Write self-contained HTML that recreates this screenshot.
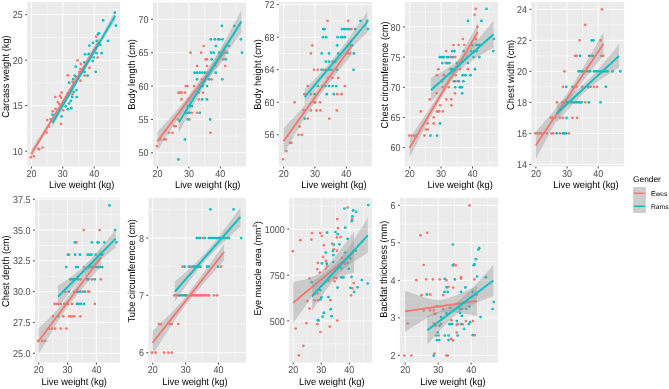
<!DOCTYPE html>
<html><head><meta charset="utf-8"><style>html,body{margin:0;padding:0;background:#fff;overflow:hidden}svg{display:block}</style></head>
<body><svg width="669" height="389" viewBox="0 0 669 389" style="will-change:transform;filter:blur(0.3px)">
<style>
text{text-rendering:geometricPrecision}
.mn{stroke:#FFFFFF;stroke-width:0.45}
.mj{stroke:#FFFFFF;stroke-width:0.9}
.tk{stroke:#333333;stroke-width:0.9}
.tl{font-family:"Liberation Sans",sans-serif;font-size:9.0px;fill:#4D4D4D}
.tt{font-family:"Liberation Sans",sans-serif;font-size:9.35px;fill:#000000}
.lt{font-family:"Liberation Sans",sans-serif;font-size:8.3px;fill:#000000}
.lx{font-family:"Liberation Sans",sans-serif;font-size:6.75px;fill:#000000}
.bd{fill:#999999;fill-opacity:0.4}
</style>
<rect width="669" height="389" fill="#FFFFFF"/>
<clipPath id="c0"><rect x="27.2" y="2" width="93" height="164.5"/></clipPath><rect x="27.2" y="2" width="93" height="164.5" fill="#EBEBEB"/><g><line x1="47.1" y1="2" x2="47.1" y2="166.5" class="mn"/><line x1="78.5" y1="2" x2="78.5" y2="166.5" class="mn"/><line x1="109.9" y1="2" x2="109.9" y2="166.5" class="mn"/><line x1="27.2" y1="128.43" x2="120.2" y2="128.43" class="mn"/><line x1="27.2" y1="82.92" x2="120.2" y2="82.92" class="mn"/><line x1="27.2" y1="37.41" x2="120.2" y2="37.41" class="mn"/><line x1="31.4" y1="2" x2="31.4" y2="166.5" class="mj"/><line x1="62.8" y1="2" x2="62.8" y2="166.5" class="mj"/><line x1="94.2" y1="2" x2="94.2" y2="166.5" class="mj"/><line x1="27.2" y1="151.19" x2="120.2" y2="151.19" class="mj"/><line x1="27.2" y1="105.68" x2="120.2" y2="105.68" class="mj"/><line x1="27.2" y1="60.17" x2="120.2" y2="60.17" class="mj"/><line x1="27.2" y1="14.66" x2="120.2" y2="14.66" class="mj"/></g><g clip-path="url(#c0)"><circle cx="96.15" cy="36.55" r="1.35" fill="#F8766D"/><circle cx="77.55" cy="60.41" r="1.35" fill="#F8766D"/><circle cx="80.79" cy="63.97" r="1.35" fill="#F8766D"/><circle cx="89.44" cy="67.97" r="1.35" fill="#F8766D"/><circle cx="80.25" cy="69.05" r="1.35" fill="#F8766D"/><circle cx="79.17" cy="72.07" r="1.35" fill="#F8766D"/><circle cx="84.57" cy="75.53" r="1.35" fill="#F8766D"/><circle cx="67.83" cy="75.31" r="1.35" fill="#F8766D"/><circle cx="75.93" cy="76.93" r="1.35" fill="#F8766D"/><circle cx="80.47" cy="80.71" r="1.35" fill="#F8766D"/><circle cx="72.69" cy="81.79" r="1.35" fill="#F8766D"/><circle cx="61.61" cy="92.69" r="1.35" fill="#F8766D"/><circle cx="55.34" cy="97.01" r="1.35" fill="#F8766D"/><circle cx="59.99" cy="95.93" r="1.35" fill="#F8766D"/><circle cx="61.07" cy="97.66" r="1.35" fill="#F8766D"/><circle cx="67.88" cy="93.34" r="1.35" fill="#F8766D"/><circle cx="72.41" cy="94.42" r="1.35" fill="#F8766D"/><circle cx="57.83" cy="101.98" r="1.35" fill="#F8766D"/><circle cx="58.91" cy="103.81" r="1.35" fill="#F8766D"/><circle cx="55.67" cy="108.89" r="1.35" fill="#F8766D"/><circle cx="52.75" cy="111.37" r="1.35" fill="#F8766D"/><circle cx="63.23" cy="110.29" r="1.35" fill="#F8766D"/><circle cx="47.02" cy="120.01" r="1.35" fill="#F8766D"/><circle cx="50.8" cy="119.47" r="1.35" fill="#F8766D"/><circle cx="61.07" cy="123.79" r="1.35" fill="#F8766D"/><circle cx="49.18" cy="126.49" r="1.35" fill="#F8766D"/><circle cx="46.54" cy="132.51" r="1.35" fill="#F8766D"/><circle cx="42.53" cy="147.55" r="1.35" fill="#F8766D"/><circle cx="38.22" cy="149.05" r="1.35" fill="#F8766D"/><circle cx="39.23" cy="149.35" r="1.35" fill="#F8766D"/><circle cx="30.81" cy="157.28" r="1.35" fill="#F8766D"/><circle cx="34.01" cy="156.37" r="1.35" fill="#F8766D"/><circle cx="97.6" cy="57.5" r="1.35" fill="#F8766D"/><circle cx="114.84" cy="12.58" r="1.35" fill="#00BFC4"/><circle cx="103.17" cy="20.35" r="1.35" fill="#00BFC4"/><circle cx="115.92" cy="25.54" r="1.35" fill="#00BFC4"/><circle cx="98.85" cy="33.31" r="1.35" fill="#00BFC4"/><circle cx="97.99" cy="34.17" r="1.35" fill="#00BFC4"/><circle cx="96.69" cy="40.87" r="1.35" fill="#00BFC4"/><circle cx="108.03" cy="40.87" r="1.35" fill="#00BFC4"/><circle cx="92.91" cy="42.81" r="1.35" fill="#00BFC4"/><circle cx="89.44" cy="45.62" r="1.35" fill="#00BFC4"/><circle cx="85.11" cy="54.26" r="1.35" fill="#00BFC4"/><circle cx="88.68" cy="53.93" r="1.35" fill="#00BFC4"/><circle cx="92.68" cy="61.06" r="1.35" fill="#00BFC4"/><circle cx="84.36" cy="62.35" r="1.35" fill="#00BFC4"/><circle cx="75.71" cy="66.67" r="1.35" fill="#00BFC4"/><circle cx="84.57" cy="72.07" r="1.35" fill="#00BFC4"/><circle cx="87.6" cy="75.53" r="1.35" fill="#00BFC4"/><circle cx="74.63" cy="75.53" r="1.35" fill="#00BFC4"/><circle cx="73.23" cy="79.09" r="1.35" fill="#00BFC4"/><circle cx="69.23" cy="82.65" r="1.35" fill="#00BFC4"/><circle cx="95.7" cy="71.86" r="1.35" fill="#00BFC4"/><circle cx="96.46" cy="53.18" r="1.35" fill="#00BFC4"/><circle cx="93.76" cy="57.5" r="1.35" fill="#00BFC4"/><circle cx="76.52" cy="90.1" r="1.35" fill="#00BFC4"/><circle cx="73.71" cy="91.94" r="1.35" fill="#00BFC4"/><circle cx="76.74" cy="97.01" r="1.35" fill="#00BFC4"/><circle cx="72.2" cy="97.01" r="1.35" fill="#00BFC4"/><circle cx="70.79" cy="100.9" r="1.35" fill="#00BFC4"/><circle cx="68.96" cy="103.49" r="1.35" fill="#00BFC4"/><circle cx="65.71" cy="106.3" r="1.35" fill="#00BFC4"/><circle cx="71.33" cy="108.13" r="1.35" fill="#00BFC4"/><circle cx="67.88" cy="109.21" r="1.35" fill="#00BFC4"/><circle cx="52.43" cy="114.61" r="1.35" fill="#00BFC4"/><circle cx="61.61" cy="116.45" r="1.35" fill="#00BFC4"/><circle cx="101.7" cy="53.2" r="1.35" fill="#00BFC4"/><circle cx="100.3" cy="44.8" r="1.35" fill="#00BFC4"/><polygon points="31.21,149.7 32.92,147.04 34.63,144.39 36.34,141.73 38.04,139.06 39.75,136.39 41.46,133.72 43.17,131.05 44.88,128.36 46.59,125.67 48.29,122.98 50,120.27 51.71,117.56 53.42,114.83 55.13,112.09 56.83,109.33 58.54,106.56 60.25,103.77 61.96,100.96 63.67,98.13 65.37,95.28 67.08,92.42 68.79,89.55 70.5,86.67 72.21,83.77 73.92,80.86 75.62,77.94 77.33,75.01 79.04,72.08 80.75,69.14 82.46,66.19 84.16,63.24 85.87,60.28 87.58,57.32 89.29,54.35 91,51.38 92.71,48.41 94.41,45.43 96.12,42.46 97.83,39.48 99.54,36.5 99.54,44.9 97.83,47.58 96.12,50.26 94.41,52.95 92.71,55.63 91,58.32 89.29,61.01 87.58,63.7 85.87,66.4 84.16,69.1 82.46,71.81 80.75,74.52 79.04,77.24 77.33,79.97 75.62,82.7 73.92,85.44 72.21,88.19 70.5,90.95 68.79,93.73 67.08,96.52 65.37,99.32 63.67,102.13 61.96,104.96 60.25,107.81 58.54,110.68 56.83,113.57 55.13,116.47 53.42,119.39 51.71,122.32 50,125.27 48.29,128.22 46.59,131.19 44.88,134.16 43.17,137.13 41.46,140.12 39.75,143.11 38.04,146.1 36.34,149.09 34.63,152.09 32.92,155.1 31.21,158.1" class="bd"/><line x1="31.21" y1="153.9" x2="99.54" y2="40.7" stroke="#F8766D" stroke-width="1.85"/><polygon points="52.44,118.8 54.01,116.29 55.58,113.77 57.15,111.26 58.72,108.74 60.29,106.21 61.86,103.69 63.43,101.15 65,98.62 66.57,96.07 68.14,93.52 69.71,90.96 71.28,88.39 72.85,85.81 74.42,83.21 75.99,80.6 77.56,77.97 79.13,75.33 80.7,72.67 82.27,69.98 83.84,67.28 85.41,64.55 86.98,61.8 88.55,59.03 90.12,56.25 91.69,53.45 93.26,50.64 94.83,47.82 96.4,44.98 97.97,42.14 99.54,39.29 101.11,36.44 102.68,33.58 104.25,30.72 105.82,27.85 107.39,24.98 108.96,22.11 110.53,19.24 112.1,16.36 113.67,13.48 115.24,10.6 115.24,20.6 113.67,23.09 112.1,25.58 110.53,28.07 108.96,30.57 107.39,33.07 105.82,35.57 104.25,38.07 102.68,40.58 101.11,43.09 99.54,45.61 97.97,48.13 96.4,50.66 94.83,53.19 93.26,55.74 91.69,58.3 90.12,60.87 88.55,63.46 86.98,66.06 85.41,68.68 83.84,71.32 82.27,73.99 80.7,76.67 79.13,79.38 77.56,82.11 75.99,84.85 74.42,87.61 72.85,90.38 71.28,93.17 69.71,95.97 68.14,98.78 66.57,101.6 65,104.42 63.43,107.26 61.86,110.09 60.29,112.94 58.72,115.78 57.15,118.63 55.58,121.49 54.01,124.34 52.44,127.2" class="bd"/><line x1="52.44" y1="123" x2="115.24" y2="15.6" stroke="#00BFC4" stroke-width="1.85"/></g><line x1="31.4" y1="166.5" x2="31.4" y2="168.5" class="tk"/><text transform="translate(31.4,177.3) scale(1,1.1)" text-anchor="middle" class="tl">20</text><line x1="62.8" y1="166.5" x2="62.8" y2="168.5" class="tk"/><text transform="translate(62.8,177.3) scale(1,1.1)" text-anchor="middle" class="tl">30</text><line x1="94.2" y1="166.5" x2="94.2" y2="168.5" class="tk"/><text transform="translate(94.2,177.3) scale(1,1.1)" text-anchor="middle" class="tl">40</text><line x1="25.2" y1="151.19" x2="27.2" y2="151.19" class="tk"/><text transform="translate(22.8,154.79) scale(1,1.1)" text-anchor="end" class="tl">10</text><line x1="25.2" y1="105.68" x2="27.2" y2="105.68" class="tk"/><text transform="translate(22.8,109.28) scale(1,1.1)" text-anchor="end" class="tl">15</text><line x1="25.2" y1="60.17" x2="27.2" y2="60.17" class="tk"/><text transform="translate(22.8,63.77) scale(1,1.1)" text-anchor="end" class="tl">20</text><line x1="25.2" y1="14.66" x2="27.2" y2="14.66" class="tk"/><text transform="translate(22.8,18.26) scale(1,1.1)" text-anchor="end" class="tl">25</text><text transform="translate(81.7,188) scale(1,1.07)" text-anchor="middle" class="tt">Live weight (kg)</text><text transform="translate(9.1,76.55) rotate(-90) scale(1,1.07)" text-anchor="middle" class="tt">Carcass weight (kg)</text><clipPath id="c1"><rect x="153" y="2" width="93.1" height="164.5"/></clipPath><rect x="153" y="2" width="93.1" height="164.5" fill="#EBEBEB"/><g><line x1="173.2" y1="2" x2="173.2" y2="166.5" class="mn"/><line x1="204.6" y1="2" x2="204.6" y2="166.5" class="mn"/><line x1="236" y1="2" x2="236" y2="166.5" class="mn"/><line x1="153" y1="136.1" x2="246.1" y2="136.1" class="mn"/><line x1="153" y1="102.73" x2="246.1" y2="102.73" class="mn"/><line x1="153" y1="69.36" x2="246.1" y2="69.36" class="mn"/><line x1="153" y1="35.98" x2="246.1" y2="35.98" class="mn"/><line x1="153" y1="2.61" x2="246.1" y2="2.61" class="mn"/><line x1="157.5" y1="2" x2="157.5" y2="166.5" class="mj"/><line x1="188.9" y1="2" x2="188.9" y2="166.5" class="mj"/><line x1="220.3" y1="2" x2="220.3" y2="166.5" class="mj"/><line x1="153" y1="152.78" x2="246.1" y2="152.78" class="mj"/><line x1="153" y1="119.41" x2="246.1" y2="119.41" class="mj"/><line x1="153" y1="86.04" x2="246.1" y2="86.04" class="mj"/><line x1="153" y1="52.67" x2="246.1" y2="52.67" class="mj"/><line x1="153" y1="19.3" x2="246.1" y2="19.3" class="mj"/></g><g clip-path="url(#c1)"><circle cx="203.7" cy="46" r="1.35" fill="#F8766D"/><circle cx="190.6" cy="52.67" r="1.35" fill="#F8766D"/><circle cx="201.2" cy="52.67" r="1.35" fill="#F8766D"/><circle cx="224.4" cy="52.67" r="1.35" fill="#F8766D"/><circle cx="205.6" cy="59.34" r="1.35" fill="#F8766D"/><circle cx="207" cy="59.34" r="1.35" fill="#F8766D"/><circle cx="223.2" cy="59.34" r="1.35" fill="#F8766D"/><circle cx="197.1" cy="66.02" r="1.35" fill="#F8766D"/><circle cx="207" cy="66.02" r="1.35" fill="#F8766D"/><circle cx="215.8" cy="66.02" r="1.35" fill="#F8766D"/><circle cx="225.2" cy="66.02" r="1.35" fill="#F8766D"/><circle cx="207.4" cy="72.69" r="1.35" fill="#F8766D"/><circle cx="201.9" cy="79.37" r="1.35" fill="#F8766D"/><circle cx="211.6" cy="79.37" r="1.35" fill="#F8766D"/><circle cx="185.7" cy="86.04" r="1.35" fill="#F8766D"/><circle cx="187.5" cy="86.04" r="1.35" fill="#F8766D"/><circle cx="194" cy="86.04" r="1.35" fill="#F8766D"/><circle cx="178.4" cy="92.71" r="1.35" fill="#F8766D"/><circle cx="180" cy="92.71" r="1.35" fill="#F8766D"/><circle cx="181.7" cy="92.71" r="1.35" fill="#F8766D"/><circle cx="184.9" cy="92.71" r="1.35" fill="#F8766D"/><circle cx="198.8" cy="92.71" r="1.35" fill="#F8766D"/><circle cx="203" cy="92.71" r="1.35" fill="#F8766D"/><circle cx="181.5" cy="99.39" r="1.35" fill="#F8766D"/><circle cx="188.6" cy="99.39" r="1.35" fill="#F8766D"/><circle cx="198.8" cy="99.39" r="1.35" fill="#F8766D"/><circle cx="191.9" cy="112.74" r="1.35" fill="#F8766D"/><circle cx="197" cy="112.74" r="1.35" fill="#F8766D"/><circle cx="177.8" cy="119.41" r="1.35" fill="#F8766D"/><circle cx="189.3" cy="119.41" r="1.35" fill="#F8766D"/><circle cx="174.1" cy="126.08" r="1.35" fill="#F8766D"/><circle cx="175.7" cy="126.08" r="1.35" fill="#F8766D"/><circle cx="169" cy="132.76" r="1.35" fill="#F8766D"/><circle cx="172.4" cy="132.76" r="1.35" fill="#F8766D"/><circle cx="210.5" cy="132.76" r="1.35" fill="#F8766D"/><circle cx="160.4" cy="139.43" r="1.35" fill="#F8766D"/><circle cx="164.2" cy="139.43" r="1.35" fill="#F8766D"/><circle cx="165.9" cy="139.43" r="1.35" fill="#F8766D"/><circle cx="156.8" cy="146.11" r="1.35" fill="#F8766D"/><circle cx="221.9" cy="25.97" r="1.35" fill="#00BFC4"/><circle cx="234.3" cy="25.97" r="1.35" fill="#00BFC4"/><circle cx="210.8" cy="39.32" r="1.35" fill="#00BFC4"/><circle cx="214.8" cy="39.32" r="1.35" fill="#00BFC4"/><circle cx="218.2" cy="39.32" r="1.35" fill="#00BFC4"/><circle cx="219.5" cy="39.32" r="1.35" fill="#00BFC4"/><circle cx="222.5" cy="39.32" r="1.35" fill="#00BFC4"/><circle cx="240.9" cy="39.32" r="1.35" fill="#00BFC4"/><circle cx="215.9" cy="46" r="1.35" fill="#00BFC4"/><circle cx="229" cy="46" r="1.35" fill="#00BFC4"/><circle cx="211" cy="52.67" r="1.35" fill="#00BFC4"/><circle cx="213.7" cy="52.67" r="1.35" fill="#00BFC4"/><circle cx="219.1" cy="52.67" r="1.35" fill="#00BFC4"/><circle cx="227.2" cy="52.67" r="1.35" fill="#00BFC4"/><circle cx="242" cy="52.67" r="1.35" fill="#00BFC4"/><circle cx="211.6" cy="59.34" r="1.35" fill="#00BFC4"/><circle cx="225.8" cy="59.34" r="1.35" fill="#00BFC4"/><circle cx="194.6" cy="72.69" r="1.35" fill="#00BFC4"/><circle cx="197.2" cy="72.69" r="1.35" fill="#00BFC4"/><circle cx="199.8" cy="72.69" r="1.35" fill="#00BFC4"/><circle cx="202.4" cy="72.69" r="1.35" fill="#00BFC4"/><circle cx="205" cy="72.69" r="1.35" fill="#00BFC4"/><circle cx="215.8" cy="72.69" r="1.35" fill="#00BFC4"/><circle cx="197.1" cy="79.37" r="1.35" fill="#00BFC4"/><circle cx="209.1" cy="79.37" r="1.35" fill="#00BFC4"/><circle cx="222.3" cy="79.37" r="1.35" fill="#00BFC4"/><circle cx="202.8" cy="86.04" r="1.35" fill="#00BFC4"/><circle cx="207" cy="86.04" r="1.35" fill="#00BFC4"/><circle cx="202.1" cy="99.39" r="1.35" fill="#00BFC4"/><circle cx="206.9" cy="99.39" r="1.35" fill="#00BFC4"/><circle cx="188.2" cy="106.06" r="1.35" fill="#00BFC4"/><circle cx="190" cy="106.06" r="1.35" fill="#00BFC4"/><circle cx="191.9" cy="106.06" r="1.35" fill="#00BFC4"/><circle cx="185.9" cy="112.74" r="1.35" fill="#00BFC4"/><circle cx="187.7" cy="112.74" r="1.35" fill="#00BFC4"/><circle cx="189.6" cy="112.74" r="1.35" fill="#00BFC4"/><circle cx="199.8" cy="112.74" r="1.35" fill="#00BFC4"/><circle cx="187.7" cy="119.41" r="1.35" fill="#00BFC4"/><circle cx="210.2" cy="119.41" r="1.35" fill="#00BFC4"/><circle cx="184.9" cy="139.43" r="1.35" fill="#00BFC4"/><circle cx="178.4" cy="159.45" r="1.35" fill="#00BFC4"/><polygon points="157.31,131.9 159.02,130.04 160.73,128.17 162.44,126.29 164.14,124.41 165.85,122.52 167.56,120.63 169.27,118.72 170.98,116.8 172.69,114.87 174.39,112.92 176.1,110.96 177.81,108.96 179.52,106.95 181.23,104.9 182.93,102.81 184.64,100.67 186.35,98.49 188.06,96.26 189.77,93.98 191.47,91.67 193.18,89.33 194.89,86.97 196.6,84.59 198.31,82.18 200.02,79.76 201.72,77.32 203.43,74.86 205.14,72.38 206.85,69.9 208.56,67.4 210.26,64.89 211.97,62.37 213.68,59.84 215.39,57.31 217.1,54.77 218.81,52.23 220.51,49.68 222.22,47.12 223.93,44.56 225.64,42 225.64,58 223.93,60.01 222.22,62.02 220.51,64.03 218.81,66.05 217.1,68.08 215.39,70.11 213.68,72.15 211.97,74.19 210.26,76.24 208.56,78.3 206.85,80.37 205.14,82.46 203.43,84.55 201.72,86.66 200.02,88.79 198.31,90.94 196.6,93.1 194.89,95.29 193.18,97.5 191.47,99.73 189.77,101.99 188.06,104.28 186.35,106.62 184.64,109.01 182.93,111.44 181.23,113.92 179.52,116.44 177.81,119 176.1,121.57 174.39,124.18 172.69,126.8 170.98,129.44 169.27,132.09 167.56,134.75 165.85,137.43 164.14,140.11 162.44,142.8 160.73,145.49 159.02,148.19 157.31,150.9" class="bd"/><line x1="157.31" y1="141.4" x2="225.64" y2="50" stroke="#F8766D" stroke-width="1.85"/><polygon points="178.85,111.5 180.41,109.46 181.98,107.41 183.54,105.36 185.1,103.3 186.66,101.23 188.22,99.15 189.79,97.06 191.35,94.96 192.91,92.84 194.47,90.7 196.04,88.55 197.6,86.36 199.16,84.15 200.72,81.89 202.28,79.6 203.85,77.25 205.41,74.85 206.97,72.39 208.53,69.87 210.09,67.29 211.66,64.67 213.22,62 214.78,59.29 216.34,56.54 217.91,53.75 219.47,50.94 221.03,48.1 222.59,45.25 224.15,42.37 225.72,39.48 227.28,36.58 228.84,33.67 230.4,30.74 231.97,27.81 233.53,24.87 235.09,21.93 236.65,18.98 238.21,16.02 239.78,13.06 241.34,10.1 241.34,32.7 239.78,34.78 238.21,36.87 236.65,38.96 235.09,41.05 233.53,43.15 231.97,45.26 230.4,47.37 228.84,49.49 227.28,51.62 225.72,53.77 224.15,55.92 222.59,58.09 221.03,60.28 219.47,62.49 217.91,64.72 216.34,66.98 214.78,69.28 213.22,71.61 211.66,73.99 210.09,76.41 208.53,78.88 206.97,81.4 205.41,83.99 203.85,86.63 202.28,89.33 200.72,92.08 199.16,94.87 197.6,97.7 196.04,100.56 194.47,103.45 192.91,106.35 191.35,109.28 189.79,112.22 188.22,115.18 186.66,118.15 185.1,121.12 183.54,124.11 181.98,127.1 180.41,130.1 178.85,133.1" class="bd"/><line x1="178.85" y1="122.3" x2="241.34" y2="21.4" stroke="#00BFC4" stroke-width="1.85"/></g><line x1="157.5" y1="166.5" x2="157.5" y2="168.5" class="tk"/><text transform="translate(157.5,177.3) scale(1,1.1)" text-anchor="middle" class="tl">20</text><line x1="188.9" y1="166.5" x2="188.9" y2="168.5" class="tk"/><text transform="translate(188.9,177.3) scale(1,1.1)" text-anchor="middle" class="tl">30</text><line x1="220.3" y1="166.5" x2="220.3" y2="168.5" class="tk"/><text transform="translate(220.3,177.3) scale(1,1.1)" text-anchor="middle" class="tl">40</text><line x1="151" y1="152.78" x2="153" y2="152.78" class="tk"/><text transform="translate(148.6,156.38) scale(1,1.1)" text-anchor="end" class="tl">50</text><line x1="151" y1="119.41" x2="153" y2="119.41" class="tk"/><text transform="translate(148.6,123.01) scale(1,1.1)" text-anchor="end" class="tl">55</text><line x1="151" y1="86.04" x2="153" y2="86.04" class="tk"/><text transform="translate(148.6,89.64) scale(1,1.1)" text-anchor="end" class="tl">60</text><line x1="151" y1="52.67" x2="153" y2="52.67" class="tk"/><text transform="translate(148.6,56.27) scale(1,1.1)" text-anchor="end" class="tl">65</text><line x1="151" y1="19.3" x2="153" y2="19.3" class="tk"/><text transform="translate(148.6,22.9) scale(1,1.1)" text-anchor="end" class="tl">70</text><text transform="translate(207.75,188) scale(1,1.07)" text-anchor="middle" class="tt">Live weight (kg)</text><text transform="translate(135.4,74.5) rotate(-90) scale(1,1.07)" text-anchor="middle" class="tt">Body length (cm)</text><clipPath id="c2"><rect x="278.8" y="2" width="93.1" height="164.5"/></clipPath><rect x="278.8" y="2" width="93.1" height="164.5" fill="#EBEBEB"/><g><line x1="299.35" y1="2" x2="299.35" y2="166.5" class="mn"/><line x1="330.65" y1="2" x2="330.65" y2="166.5" class="mn"/><line x1="361.95" y1="2" x2="361.95" y2="166.5" class="mn"/><line x1="278.8" y1="151.09" x2="371.9" y2="151.09" class="mn"/><line x1="278.8" y1="118.55" x2="371.9" y2="118.55" class="mn"/><line x1="278.8" y1="86.01" x2="371.9" y2="86.01" class="mn"/><line x1="278.8" y1="53.47" x2="371.9" y2="53.47" class="mn"/><line x1="278.8" y1="20.93" x2="371.9" y2="20.93" class="mn"/><line x1="283.7" y1="2" x2="283.7" y2="166.5" class="mj"/><line x1="315" y1="2" x2="315" y2="166.5" class="mj"/><line x1="346.3" y1="2" x2="346.3" y2="166.5" class="mj"/><line x1="278.8" y1="134.82" x2="371.9" y2="134.82" class="mj"/><line x1="278.8" y1="102.28" x2="371.9" y2="102.28" class="mj"/><line x1="278.8" y1="69.74" x2="371.9" y2="69.74" class="mj"/><line x1="278.8" y1="37.2" x2="371.9" y2="37.2" class="mj"/><line x1="278.8" y1="4.66" x2="371.9" y2="4.66" class="mj"/></g><g clip-path="url(#c2)"><circle cx="327.6" cy="20.93" r="1.35" fill="#F8766D"/><circle cx="348.2" cy="20.93" r="1.35" fill="#F8766D"/><circle cx="349.9" cy="29.07" r="1.35" fill="#F8766D"/><circle cx="351.5" cy="29.07" r="1.35" fill="#F8766D"/><circle cx="312.3" cy="45.34" r="1.35" fill="#F8766D"/><circle cx="350.8" cy="45.34" r="1.35" fill="#F8766D"/><circle cx="310.9" cy="53.47" r="1.35" fill="#F8766D"/><circle cx="347.9" cy="53.47" r="1.35" fill="#F8766D"/><circle cx="350" cy="53.47" r="1.35" fill="#F8766D"/><circle cx="332.4" cy="61.61" r="1.35" fill="#F8766D"/><circle cx="314" cy="69.74" r="1.35" fill="#F8766D"/><circle cx="317.8" cy="69.74" r="1.35" fill="#F8766D"/><circle cx="323.8" cy="69.74" r="1.35" fill="#F8766D"/><circle cx="325.1" cy="69.74" r="1.35" fill="#F8766D"/><circle cx="327.8" cy="77.88" r="1.35" fill="#F8766D"/><circle cx="332.4" cy="77.88" r="1.35" fill="#F8766D"/><circle cx="338.2" cy="77.88" r="1.35" fill="#F8766D"/><circle cx="307.7" cy="86.01" r="1.35" fill="#F8766D"/><circle cx="344.8" cy="86.01" r="1.35" fill="#F8766D"/><circle cx="304.5" cy="94.15" r="1.35" fill="#F8766D"/><circle cx="310.9" cy="94.15" r="1.35" fill="#F8766D"/><circle cx="337.2" cy="94.15" r="1.35" fill="#F8766D"/><circle cx="341.6" cy="94.15" r="1.35" fill="#F8766D"/><circle cx="294.6" cy="102.28" r="1.35" fill="#F8766D"/><circle cx="314.1" cy="102.28" r="1.35" fill="#F8766D"/><circle cx="315.3" cy="102.28" r="1.35" fill="#F8766D"/><circle cx="320.1" cy="102.28" r="1.35" fill="#F8766D"/><circle cx="303.9" cy="110.42" r="1.35" fill="#F8766D"/><circle cx="310.9" cy="110.42" r="1.35" fill="#F8766D"/><circle cx="316.5" cy="110.42" r="1.35" fill="#F8766D"/><circle cx="320.4" cy="110.42" r="1.35" fill="#F8766D"/><circle cx="336.8" cy="110.42" r="1.35" fill="#F8766D"/><circle cx="307.8" cy="118.55" r="1.35" fill="#F8766D"/><circle cx="329.3" cy="118.55" r="1.35" fill="#F8766D"/><circle cx="299.5" cy="126.69" r="1.35" fill="#F8766D"/><circle cx="298.5" cy="134.82" r="1.35" fill="#F8766D"/><circle cx="301.9" cy="134.82" r="1.35" fill="#F8766D"/><circle cx="290" cy="142.96" r="1.35" fill="#F8766D"/><circle cx="291.3" cy="142.96" r="1.35" fill="#F8766D"/><circle cx="286.4" cy="151.09" r="1.35" fill="#F8766D"/><circle cx="283" cy="159.23" r="1.35" fill="#F8766D"/><circle cx="360.5" cy="20.93" r="1.35" fill="#00BFC4"/><circle cx="367.3" cy="20.93" r="1.35" fill="#00BFC4"/><circle cx="323.2" cy="29.07" r="1.35" fill="#00BFC4"/><circle cx="324.6" cy="29.07" r="1.35" fill="#00BFC4"/><circle cx="342" cy="29.07" r="1.35" fill="#00BFC4"/><circle cx="344.1" cy="29.07" r="1.35" fill="#00BFC4"/><circle cx="346.1" cy="29.07" r="1.35" fill="#00BFC4"/><circle cx="348.5" cy="29.07" r="1.35" fill="#00BFC4"/><circle cx="355.4" cy="29.07" r="1.35" fill="#00BFC4"/><circle cx="367.9" cy="29.07" r="1.35" fill="#00BFC4"/><circle cx="323" cy="37.2" r="1.35" fill="#00BFC4"/><circle cx="326.2" cy="37.2" r="1.35" fill="#00BFC4"/><circle cx="337.6" cy="37.2" r="1.35" fill="#00BFC4"/><circle cx="341" cy="37.2" r="1.35" fill="#00BFC4"/><circle cx="342.4" cy="37.2" r="1.35" fill="#00BFC4"/><circle cx="344.8" cy="37.2" r="1.35" fill="#00BFC4"/><circle cx="337.1" cy="45.34" r="1.35" fill="#00BFC4"/><circle cx="352.2" cy="45.34" r="1.35" fill="#00BFC4"/><circle cx="321.7" cy="53.47" r="1.35" fill="#00BFC4"/><circle cx="329" cy="53.47" r="1.35" fill="#00BFC4"/><circle cx="338.2" cy="53.47" r="1.35" fill="#00BFC4"/><circle cx="353.9" cy="53.47" r="1.35" fill="#00BFC4"/><circle cx="325.8" cy="61.61" r="1.35" fill="#00BFC4"/><circle cx="329" cy="61.61" r="1.35" fill="#00BFC4"/><circle cx="335.3" cy="61.61" r="1.35" fill="#00BFC4"/><circle cx="321.5" cy="69.74" r="1.35" fill="#00BFC4"/><circle cx="329.5" cy="69.74" r="1.35" fill="#00BFC4"/><circle cx="331.6" cy="69.74" r="1.35" fill="#00BFC4"/><circle cx="337" cy="69.74" r="1.35" fill="#00BFC4"/><circle cx="353.5" cy="69.74" r="1.35" fill="#00BFC4"/><circle cx="318" cy="86.01" r="1.35" fill="#00BFC4"/><circle cx="322.5" cy="86.01" r="1.35" fill="#00BFC4"/><circle cx="325.5" cy="86.01" r="1.35" fill="#00BFC4"/><circle cx="329" cy="86.01" r="1.35" fill="#00BFC4"/><circle cx="332.6" cy="86.01" r="1.35" fill="#00BFC4"/><circle cx="336.2" cy="86.01" r="1.35" fill="#00BFC4"/><circle cx="314.7" cy="94.15" r="1.35" fill="#00BFC4"/><circle cx="326.7" cy="94.15" r="1.35" fill="#00BFC4"/><circle cx="333.8" cy="94.15" r="1.35" fill="#00BFC4"/><circle cx="304.6" cy="118.55" r="1.35" fill="#00BFC4"/><polygon points="283.51,128.3 285.21,126.51 286.92,124.72 288.62,122.92 290.32,121.12 292.03,119.3 293.73,117.48 295.43,115.64 297.13,113.79 298.84,111.92 300.54,110.03 302.24,108.12 303.94,106.17 305.65,104.19 307.35,102.16 309.05,100.07 310.76,97.92 312.46,95.7 314.16,93.4 315.86,91.03 317.57,88.63 319.27,86.2 320.97,83.75 322.67,81.28 324.38,78.8 326.08,76.29 327.78,73.77 329.49,71.23 331.19,68.68 332.89,66.12 334.59,63.54 336.3,60.95 338,58.35 339.7,55.74 341.4,53.13 343.11,50.51 344.81,47.88 346.51,45.24 348.22,42.6 349.92,39.95 351.62,37.3 351.62,54.7 349.92,56.81 348.22,58.93 346.51,61.06 344.81,63.18 343.11,65.32 341.4,67.46 339.7,69.61 338,71.77 336.3,73.93 334.59,76.11 332.89,78.3 331.19,80.5 329.49,82.71 327.78,84.94 326.08,87.18 324.38,89.44 322.67,91.72 320.97,94.02 319.27,96.34 317.57,98.67 315.86,101.04 314.16,103.43 312.46,105.89 310.76,108.44 309.05,111.05 307.35,113.73 305.65,116.47 303.94,119.25 302.24,122.07 300.54,124.92 298.84,127.79 297.13,130.69 295.43,133.6 293.73,136.53 292.03,139.47 290.32,142.42 288.62,145.38 286.92,148.35 285.21,151.32 283.51,154.3" class="bd"/><line x1="283.51" y1="141.3" x2="351.62" y2="46" stroke="#F8766D" stroke-width="1.85"/><polygon points="304.67,89.2 306.24,87.63 307.8,86.05 309.37,84.47 310.93,82.88 312.5,81.29 314.06,79.68 315.63,78.07 317.19,76.44 318.76,74.8 320.32,73.15 321.89,71.48 323.45,69.79 325.02,68.09 326.58,66.36 328.15,64.6 329.71,62.81 331.28,61 332.84,59.15 334.41,57.28 335.97,55.35 337.54,53.38 339.1,51.36 340.67,49.31 342.23,47.21 343.8,45.09 345.36,42.94 346.93,40.76 348.49,38.57 350.06,36.35 351.62,34.13 353.19,31.89 354.75,29.64 356.32,27.38 357.88,25.11 359.45,22.84 361.01,20.56 362.58,18.28 364.14,15.99 365.71,13.7 367.27,11.4 367.27,32.6 365.71,34.06 364.14,35.53 362.58,37 361.01,38.48 359.45,39.96 357.88,41.45 356.32,42.94 354.75,44.44 353.19,45.95 351.62,47.47 350.06,49.01 348.49,50.55 346.93,52.12 345.36,53.7 343.8,55.31 342.23,56.95 340.67,58.61 339.1,60.32 337.54,62.06 335.97,63.85 334.41,65.68 332.84,67.57 331.28,69.48 329.71,71.43 328.15,73.4 326.58,75.4 325.02,77.43 323.45,79.49 321.89,81.56 320.32,83.65 318.76,85.76 317.19,87.88 315.63,90.01 314.06,92.16 312.5,94.31 310.93,96.48 309.37,98.65 307.8,100.83 306.24,103.01 304.67,105.2" class="bd"/><line x1="304.67" y1="97.2" x2="367.27" y2="22" stroke="#00BFC4" stroke-width="1.85"/></g><line x1="283.7" y1="166.5" x2="283.7" y2="168.5" class="tk"/><text transform="translate(283.7,177.3) scale(1,1.1)" text-anchor="middle" class="tl">20</text><line x1="315" y1="166.5" x2="315" y2="168.5" class="tk"/><text transform="translate(315,177.3) scale(1,1.1)" text-anchor="middle" class="tl">30</text><line x1="346.3" y1="166.5" x2="346.3" y2="168.5" class="tk"/><text transform="translate(346.3,177.3) scale(1,1.1)" text-anchor="middle" class="tl">40</text><line x1="276.8" y1="134.82" x2="278.8" y2="134.82" class="tk"/><text transform="translate(274.4,138.42) scale(1,1.1)" text-anchor="end" class="tl">56</text><line x1="276.8" y1="102.28" x2="278.8" y2="102.28" class="tk"/><text transform="translate(274.4,105.88) scale(1,1.1)" text-anchor="end" class="tl">60</text><line x1="276.8" y1="69.74" x2="278.8" y2="69.74" class="tk"/><text transform="translate(274.4,73.34) scale(1,1.1)" text-anchor="end" class="tl">64</text><line x1="276.8" y1="37.2" x2="278.8" y2="37.2" class="tk"/><text transform="translate(274.4,40.8) scale(1,1.1)" text-anchor="end" class="tl">68</text><line x1="276.8" y1="4.66" x2="278.8" y2="4.66" class="tk"/><text transform="translate(274.4,8.26) scale(1,1.1)" text-anchor="end" class="tl">72</text><text transform="translate(333.9,188) scale(1,1.07)" text-anchor="middle" class="tt">Live weight (kg)</text><text transform="translate(260.8,74.55) rotate(-90) scale(1,1.07)" text-anchor="middle" class="tt">Body height (cm)</text><clipPath id="c3"><rect x="404.9" y="2" width="93.1" height="164.5"/></clipPath><rect x="404.9" y="2" width="93.1" height="164.5" fill="#EBEBEB"/><g><line x1="425.4" y1="2" x2="425.4" y2="166.5" class="mn"/><line x1="456.8" y1="2" x2="456.8" y2="166.5" class="mn"/><line x1="488.2" y1="2" x2="488.2" y2="166.5" class="mn"/><line x1="404.9" y1="162.68" x2="498" y2="162.68" class="mn"/><line x1="404.9" y1="132.51" x2="498" y2="132.51" class="mn"/><line x1="404.9" y1="102.34" x2="498" y2="102.34" class="mn"/><line x1="404.9" y1="72.18" x2="498" y2="72.18" class="mn"/><line x1="404.9" y1="42.01" x2="498" y2="42.01" class="mn"/><line x1="404.9" y1="11.84" x2="498" y2="11.84" class="mn"/><line x1="409.7" y1="2" x2="409.7" y2="166.5" class="mj"/><line x1="441.1" y1="2" x2="441.1" y2="166.5" class="mj"/><line x1="472.5" y1="2" x2="472.5" y2="166.5" class="mj"/><line x1="404.9" y1="147.6" x2="498" y2="147.6" class="mj"/><line x1="404.9" y1="117.43" x2="498" y2="117.43" class="mj"/><line x1="404.9" y1="87.26" x2="498" y2="87.26" class="mj"/><line x1="404.9" y1="57.09" x2="498" y2="57.09" class="mj"/><line x1="404.9" y1="26.92" x2="498" y2="26.92" class="mj"/></g><g clip-path="url(#c3)"><circle cx="475.7" cy="8.82" r="1.35" fill="#F8766D"/><circle cx="474.5" cy="14.85" r="1.35" fill="#F8766D"/><circle cx="477.5" cy="26.92" r="1.35" fill="#F8766D"/><circle cx="462.9" cy="38.99" r="1.35" fill="#F8766D"/><circle cx="475.7" cy="38.99" r="1.35" fill="#F8766D"/><circle cx="453.4" cy="45.02" r="1.35" fill="#F8766D"/><circle cx="458.7" cy="45.02" r="1.35" fill="#F8766D"/><circle cx="464.3" cy="45.02" r="1.35" fill="#F8766D"/><circle cx="446.2" cy="51.06" r="1.35" fill="#F8766D"/><circle cx="450.8" cy="57.09" r="1.35" fill="#F8766D"/><circle cx="455.3" cy="57.09" r="1.35" fill="#F8766D"/><circle cx="438.4" cy="69.16" r="1.35" fill="#F8766D"/><circle cx="460" cy="69.16" r="1.35" fill="#F8766D"/><circle cx="467.7" cy="69.16" r="1.35" fill="#F8766D"/><circle cx="436.9" cy="75.19" r="1.35" fill="#F8766D"/><circle cx="443.9" cy="75.19" r="1.35" fill="#F8766D"/><circle cx="455.7" cy="75.19" r="1.35" fill="#F8766D"/><circle cx="442.2" cy="81.23" r="1.35" fill="#F8766D"/><circle cx="453.8" cy="81.23" r="1.35" fill="#F8766D"/><circle cx="457.5" cy="81.23" r="1.35" fill="#F8766D"/><circle cx="442.7" cy="87.26" r="1.35" fill="#F8766D"/><circle cx="448.7" cy="87.26" r="1.35" fill="#F8766D"/><circle cx="436.7" cy="93.29" r="1.35" fill="#F8766D"/><circle cx="455" cy="93.29" r="1.35" fill="#F8766D"/><circle cx="429.7" cy="99.33" r="1.35" fill="#F8766D"/><circle cx="446.4" cy="99.33" r="1.35" fill="#F8766D"/><circle cx="451.3" cy="99.33" r="1.35" fill="#F8766D"/><circle cx="440.2" cy="105.36" r="1.35" fill="#F8766D"/><circle cx="451.3" cy="105.36" r="1.35" fill="#F8766D"/><circle cx="420.9" cy="111.4" r="1.35" fill="#F8766D"/><circle cx="437" cy="111.4" r="1.35" fill="#F8766D"/><circle cx="438.2" cy="111.4" r="1.35" fill="#F8766D"/><circle cx="439.3" cy="111.4" r="1.35" fill="#F8766D"/><circle cx="442.8" cy="111.4" r="1.35" fill="#F8766D"/><circle cx="433.7" cy="117.43" r="1.35" fill="#F8766D"/><circle cx="427.7" cy="123.46" r="1.35" fill="#F8766D"/><circle cx="433.7" cy="123.46" r="1.35" fill="#F8766D"/><circle cx="425.9" cy="129.5" r="1.35" fill="#F8766D"/><circle cx="427.7" cy="129.5" r="1.35" fill="#F8766D"/><circle cx="409.2" cy="135.53" r="1.35" fill="#F8766D"/><circle cx="411.7" cy="135.53" r="1.35" fill="#F8766D"/><circle cx="414.2" cy="135.53" r="1.35" fill="#F8766D"/><circle cx="416.7" cy="135.53" r="1.35" fill="#F8766D"/><circle cx="424.5" cy="135.53" r="1.35" fill="#F8766D"/><circle cx="486.5" cy="8.82" r="1.35" fill="#00BFC4"/><circle cx="468" cy="20.89" r="1.35" fill="#00BFC4"/><circle cx="481.4" cy="20.89" r="1.35" fill="#00BFC4"/><circle cx="493.9" cy="38.99" r="1.35" fill="#00BFC4"/><circle cx="472.1" cy="45.02" r="1.35" fill="#00BFC4"/><circle cx="476.3" cy="45.02" r="1.35" fill="#00BFC4"/><circle cx="477.7" cy="45.02" r="1.35" fill="#00BFC4"/><circle cx="479.6" cy="45.02" r="1.35" fill="#00BFC4"/><circle cx="452.2" cy="51.06" r="1.35" fill="#00BFC4"/><circle cx="454.5" cy="51.06" r="1.35" fill="#00BFC4"/><circle cx="463.6" cy="51.06" r="1.35" fill="#00BFC4"/><circle cx="471.2" cy="51.06" r="1.35" fill="#00BFC4"/><circle cx="474.5" cy="51.06" r="1.35" fill="#00BFC4"/><circle cx="476.8" cy="51.06" r="1.35" fill="#00BFC4"/><circle cx="493.3" cy="51.06" r="1.35" fill="#00BFC4"/><circle cx="439.7" cy="57.09" r="1.35" fill="#00BFC4"/><circle cx="441.1" cy="57.09" r="1.35" fill="#00BFC4"/><circle cx="442.5" cy="57.09" r="1.35" fill="#00BFC4"/><circle cx="443.9" cy="57.09" r="1.35" fill="#00BFC4"/><circle cx="447.1" cy="57.09" r="1.35" fill="#00BFC4"/><circle cx="448.5" cy="57.09" r="1.35" fill="#00BFC4"/><circle cx="452.7" cy="57.09" r="1.35" fill="#00BFC4"/><circle cx="473.5" cy="57.09" r="1.35" fill="#00BFC4"/><circle cx="479.4" cy="57.09" r="1.35" fill="#00BFC4"/><circle cx="442.3" cy="63.12" r="1.35" fill="#00BFC4"/><circle cx="446" cy="63.12" r="1.35" fill="#00BFC4"/><circle cx="447.6" cy="63.12" r="1.35" fill="#00BFC4"/><circle cx="449.4" cy="63.12" r="1.35" fill="#00BFC4"/><circle cx="456.9" cy="63.12" r="1.35" fill="#00BFC4"/><circle cx="468" cy="63.12" r="1.35" fill="#00BFC4"/><circle cx="450.6" cy="69.16" r="1.35" fill="#00BFC4"/><circle cx="452" cy="69.16" r="1.35" fill="#00BFC4"/><circle cx="474.9" cy="69.16" r="1.35" fill="#00BFC4"/><circle cx="462.6" cy="75.19" r="1.35" fill="#00BFC4"/><circle cx="465.4" cy="75.19" r="1.35" fill="#00BFC4"/><circle cx="470.5" cy="75.19" r="1.35" fill="#00BFC4"/><circle cx="454.8" cy="81.23" r="1.35" fill="#00BFC4"/><circle cx="458.9" cy="81.23" r="1.35" fill="#00BFC4"/><circle cx="463.4" cy="81.23" r="1.35" fill="#00BFC4"/><circle cx="455.2" cy="87.26" r="1.35" fill="#00BFC4"/><circle cx="459.7" cy="87.26" r="1.35" fill="#00BFC4"/><circle cx="460.8" cy="87.26" r="1.35" fill="#00BFC4"/><circle cx="461.9" cy="87.26" r="1.35" fill="#00BFC4"/><circle cx="462.2" cy="93.29" r="1.35" fill="#00BFC4"/><circle cx="440" cy="123.46" r="1.35" fill="#00BFC4"/><circle cx="430.5" cy="135.53" r="1.35" fill="#00BFC4"/><circle cx="437" cy="135.53" r="1.35" fill="#00BFC4"/><polygon points="409.51,138.3 411.22,135.82 412.93,133.34 414.64,130.86 416.34,128.36 418.05,125.86 419.76,123.35 421.47,120.83 423.18,118.3 424.89,115.75 426.59,113.19 428.3,110.61 430.01,108 431.72,105.36 433.43,102.69 435.13,99.99 436.84,97.24 438.55,94.44 440.26,91.59 441.97,88.7 443.67,85.76 445.38,82.8 447.09,79.8 448.8,76.78 450.51,73.73 452.22,70.66 453.92,67.56 455.63,64.45 457.34,61.32 459.05,58.18 460.76,55.02 462.46,51.85 464.17,48.67 465.88,45.48 467.59,42.29 469.3,39.09 471.01,35.88 472.71,32.67 474.42,29.45 476.13,26.23 477.84,23 477.84,41 476.13,43.57 474.42,46.15 472.71,48.73 471.01,51.32 469.3,53.91 467.59,56.51 465.88,59.12 464.17,61.73 462.46,64.35 460.76,66.98 459.05,69.62 457.34,72.28 455.63,74.95 453.92,77.64 452.22,80.34 450.51,83.07 448.8,85.82 447.09,88.6 445.38,91.4 443.67,94.24 441.97,97.1 440.26,100.01 438.55,102.96 436.84,105.96 435.13,109.01 433.43,112.11 431.72,115.24 430.01,118.4 428.3,121.59 426.59,124.81 424.89,128.05 423.18,131.3 421.47,134.57 419.76,137.85 418.05,141.14 416.34,144.44 414.64,147.74 412.93,151.06 411.22,154.38 409.51,157.7" class="bd"/><line x1="409.51" y1="148" x2="477.84" y2="32" stroke="#F8766D" stroke-width="1.85"/><polygon points="431.05,78 432.61,77.11 434.18,76.22 435.74,75.32 437.3,74.41 438.86,73.5 440.42,72.57 441.99,71.62 443.55,70.66 445.11,69.68 446.67,68.69 448.24,67.66 449.8,66.61 451.36,65.52 452.92,64.39 454.48,63.22 456.05,62 457.61,60.72 459.17,59.38 460.73,57.99 462.3,56.53 463.86,55.02 465.42,53.45 466.98,51.84 468.54,50.18 470.11,48.48 471.67,46.75 473.23,44.98 474.79,43.2 476.35,41.39 477.92,39.56 479.48,37.72 481.04,35.86 482.6,33.99 484.17,32.12 485.73,30.23 487.29,28.34 488.85,26.43 490.41,24.53 491.98,22.62 493.54,20.7 493.54,47.7 491.98,48.57 490.41,49.45 488.85,50.34 487.29,51.22 485.73,52.12 484.17,53.02 482.6,53.94 481.04,54.86 479.48,55.79 477.92,56.74 476.35,57.7 474.79,58.68 473.23,59.69 471.67,60.71 470.11,61.77 468.54,62.86 466.98,63.99 465.42,65.17 463.86,66.39 462.3,67.67 460.73,69 459.17,70.4 457.61,71.85 456.05,73.36 454.48,74.93 452.92,76.55 451.36,78.21 449.8,79.91 448.24,81.65 446.67,83.41 445.11,85.21 443.55,87.02 441.99,88.85 440.42,90.69 438.86,92.55 437.3,94.43 435.74,96.31 434.18,98.2 432.61,100.1 431.05,102" class="bd"/><line x1="431.05" y1="90" x2="493.54" y2="34.2" stroke="#00BFC4" stroke-width="1.85"/></g><line x1="409.7" y1="166.5" x2="409.7" y2="168.5" class="tk"/><text transform="translate(409.7,177.3) scale(1,1.1)" text-anchor="middle" class="tl">20</text><line x1="441.1" y1="166.5" x2="441.1" y2="168.5" class="tk"/><text transform="translate(441.1,177.3) scale(1,1.1)" text-anchor="middle" class="tl">30</text><line x1="472.5" y1="166.5" x2="472.5" y2="168.5" class="tk"/><text transform="translate(472.5,177.3) scale(1,1.1)" text-anchor="middle" class="tl">40</text><line x1="402.9" y1="147.6" x2="404.9" y2="147.6" class="tk"/><text transform="translate(400.5,151.2) scale(1,1.1)" text-anchor="end" class="tl">60</text><line x1="402.9" y1="117.43" x2="404.9" y2="117.43" class="tk"/><text transform="translate(400.5,121.03) scale(1,1.1)" text-anchor="end" class="tl">65</text><line x1="402.9" y1="87.26" x2="404.9" y2="87.26" class="tk"/><text transform="translate(400.5,90.86) scale(1,1.1)" text-anchor="end" class="tl">70</text><line x1="402.9" y1="57.09" x2="404.9" y2="57.09" class="tk"/><text transform="translate(400.5,60.69) scale(1,1.1)" text-anchor="end" class="tl">75</text><line x1="402.9" y1="26.92" x2="404.9" y2="26.92" class="tk"/><text transform="translate(400.5,30.52) scale(1,1.1)" text-anchor="end" class="tl">80</text><text transform="translate(460.1,188) scale(1,1.07)" text-anchor="middle" class="tt">Live weight (kg)</text><text transform="translate(387.5,74.9) rotate(-90) scale(1,1.07)" text-anchor="middle" class="tt">Chest circumference (cm)</text><clipPath id="c4"><rect x="531.3" y="2" width="92.9" height="164.5"/></clipPath><rect x="531.3" y="2" width="92.9" height="164.5" fill="#EBEBEB"/><g><line x1="551.48" y1="2" x2="551.48" y2="166.5" class="mn"/><line x1="582.62" y1="2" x2="582.62" y2="166.5" class="mn"/><line x1="613.78" y1="2" x2="613.78" y2="166.5" class="mn"/><line x1="531.3" y1="148.86" x2="624.2" y2="148.86" class="mn"/><line x1="531.3" y1="117.85" x2="624.2" y2="117.85" class="mn"/><line x1="531.3" y1="86.85" x2="624.2" y2="86.85" class="mn"/><line x1="531.3" y1="55.85" x2="624.2" y2="55.85" class="mn"/><line x1="531.3" y1="24.84" x2="624.2" y2="24.84" class="mn"/><line x1="535.9" y1="2" x2="535.9" y2="166.5" class="mj"/><line x1="567.05" y1="2" x2="567.05" y2="166.5" class="mj"/><line x1="598.2" y1="2" x2="598.2" y2="166.5" class="mj"/><line x1="531.3" y1="164.36" x2="624.2" y2="164.36" class="mj"/><line x1="531.3" y1="133.35" x2="624.2" y2="133.35" class="mj"/><line x1="531.3" y1="102.35" x2="624.2" y2="102.35" class="mj"/><line x1="531.3" y1="71.35" x2="624.2" y2="71.35" class="mj"/><line x1="531.3" y1="40.35" x2="624.2" y2="40.35" class="mj"/><line x1="531.3" y1="9.34" x2="624.2" y2="9.34" class="mj"/></g><g clip-path="url(#c4)"><circle cx="602" cy="9.34" r="1.35" fill="#F8766D"/><circle cx="585.1" cy="24.84" r="1.35" fill="#F8766D"/><circle cx="579.7" cy="40.35" r="1.35" fill="#F8766D"/><circle cx="600.5" cy="40.35" r="1.35" fill="#F8766D"/><circle cx="575" cy="55.85" r="1.35" fill="#F8766D"/><circle cx="576.6" cy="55.85" r="1.35" fill="#F8766D"/><circle cx="590.8" cy="55.85" r="1.35" fill="#F8766D"/><circle cx="601.3" cy="55.85" r="1.35" fill="#F8766D"/><circle cx="603.1" cy="55.85" r="1.35" fill="#F8766D"/><circle cx="564.4" cy="71.35" r="1.35" fill="#F8766D"/><circle cx="563" cy="86.85" r="1.35" fill="#F8766D"/><circle cx="576.3" cy="86.85" r="1.35" fill="#F8766D"/><circle cx="582.2" cy="86.85" r="1.35" fill="#F8766D"/><circle cx="590.5" cy="86.85" r="1.35" fill="#F8766D"/><circle cx="594" cy="86.85" r="1.35" fill="#F8766D"/><circle cx="597" cy="86.85" r="1.35" fill="#F8766D"/><circle cx="557" cy="102.35" r="1.35" fill="#F8766D"/><circle cx="562.3" cy="102.35" r="1.35" fill="#F8766D"/><circle cx="564.1" cy="102.35" r="1.35" fill="#F8766D"/><circle cx="585.2" cy="102.35" r="1.35" fill="#F8766D"/><circle cx="550.9" cy="117.85" r="1.35" fill="#F8766D"/><circle cx="552.9" cy="117.85" r="1.35" fill="#F8766D"/><circle cx="555.2" cy="117.85" r="1.35" fill="#F8766D"/><circle cx="560" cy="117.85" r="1.35" fill="#F8766D"/><circle cx="562.9" cy="117.85" r="1.35" fill="#F8766D"/><circle cx="572.4" cy="117.85" r="1.35" fill="#F8766D"/><circle cx="577.1" cy="117.85" r="1.35" fill="#F8766D"/><circle cx="535.3" cy="133.35" r="1.35" fill="#F8766D"/><circle cx="537.4" cy="133.35" r="1.35" fill="#F8766D"/><circle cx="539.5" cy="133.35" r="1.35" fill="#F8766D"/><circle cx="541.6" cy="133.35" r="1.35" fill="#F8766D"/><circle cx="543.7" cy="133.35" r="1.35" fill="#F8766D"/><circle cx="547" cy="133.35" r="1.35" fill="#F8766D"/><circle cx="551.5" cy="133.35" r="1.35" fill="#F8766D"/><circle cx="553.2" cy="133.35" r="1.35" fill="#F8766D"/><circle cx="560" cy="133.35" r="1.35" fill="#F8766D"/><circle cx="568.8" cy="133.35" r="1.35" fill="#F8766D"/><circle cx="591.7" cy="40.35" r="1.35" fill="#00BFC4"/><circle cx="593.5" cy="40.35" r="1.35" fill="#00BFC4"/><circle cx="580" cy="55.85" r="1.35" fill="#00BFC4"/><circle cx="589.2" cy="55.85" r="1.35" fill="#00BFC4"/><circle cx="592.8" cy="55.85" r="1.35" fill="#00BFC4"/><circle cx="578.5" cy="71.35" r="1.35" fill="#00BFC4"/><circle cx="579.9" cy="71.35" r="1.35" fill="#00BFC4"/><circle cx="581.9" cy="71.35" r="1.35" fill="#00BFC4"/><circle cx="583.8" cy="71.35" r="1.35" fill="#00BFC4"/><circle cx="585.8" cy="71.35" r="1.35" fill="#00BFC4"/><circle cx="588.2" cy="71.35" r="1.35" fill="#00BFC4"/><circle cx="590.1" cy="71.35" r="1.35" fill="#00BFC4"/><circle cx="594" cy="71.35" r="1.35" fill="#00BFC4"/><circle cx="596" cy="71.35" r="1.35" fill="#00BFC4"/><circle cx="597.9" cy="71.35" r="1.35" fill="#00BFC4"/><circle cx="599.8" cy="71.35" r="1.35" fill="#00BFC4"/><circle cx="601.8" cy="71.35" r="1.35" fill="#00BFC4"/><circle cx="603.7" cy="71.35" r="1.35" fill="#00BFC4"/><circle cx="605.7" cy="71.35" r="1.35" fill="#00BFC4"/><circle cx="607.6" cy="71.35" r="1.35" fill="#00BFC4"/><circle cx="612.5" cy="71.35" r="1.35" fill="#00BFC4"/><circle cx="620.3" cy="71.35" r="1.35" fill="#00BFC4"/><circle cx="566.2" cy="86.85" r="1.35" fill="#00BFC4"/><circle cx="572.5" cy="86.85" r="1.35" fill="#00BFC4"/><circle cx="588.1" cy="86.85" r="1.35" fill="#00BFC4"/><circle cx="605.8" cy="86.85" r="1.35" fill="#00BFC4"/><circle cx="566.5" cy="102.35" r="1.35" fill="#00BFC4"/><circle cx="568.2" cy="102.35" r="1.35" fill="#00BFC4"/><circle cx="571.2" cy="102.35" r="1.35" fill="#00BFC4"/><circle cx="573" cy="102.35" r="1.35" fill="#00BFC4"/><circle cx="574.8" cy="102.35" r="1.35" fill="#00BFC4"/><circle cx="576.5" cy="102.35" r="1.35" fill="#00BFC4"/><circle cx="578.3" cy="102.35" r="1.35" fill="#00BFC4"/><circle cx="580.1" cy="102.35" r="1.35" fill="#00BFC4"/><circle cx="581.6" cy="102.35" r="1.35" fill="#00BFC4"/><circle cx="588.9" cy="102.35" r="1.35" fill="#00BFC4"/><circle cx="600.5" cy="102.35" r="1.35" fill="#00BFC4"/><circle cx="566.5" cy="117.85" r="1.35" fill="#00BFC4"/><circle cx="556.7" cy="133.35" r="1.35" fill="#00BFC4"/><circle cx="562.9" cy="133.35" r="1.35" fill="#00BFC4"/><circle cx="564.5" cy="133.35" r="1.35" fill="#00BFC4"/><circle cx="566.1" cy="133.35" r="1.35" fill="#00BFC4"/><polygon points="535.71,131.6 537.41,129.7 539.1,127.8 540.8,125.89 542.49,123.98 544.19,122.05 545.88,120.12 547.58,118.17 549.27,116.21 550.96,114.24 552.66,112.24 554.35,110.21 556.05,108.15 557.74,106.06 559.44,103.91 561.13,101.7 562.83,99.43 564.52,97.07 566.22,94.62 567.91,92.09 569.6,89.5 571.3,86.86 572.99,84.19 574.69,81.47 576.38,78.72 578.08,75.94 579.77,73.13 581.47,70.29 583.16,67.43 584.86,64.55 586.55,61.66 588.24,58.75 589.94,55.84 591.63,52.91 593.33,49.97 595.02,47.02 596.72,44.07 598.41,41.11 600.11,38.14 601.8,35.17 603.5,32.2 603.5,55.2 601.8,57.31 600.11,59.43 598.41,61.55 596.72,63.67 595.02,65.8 593.33,67.94 591.63,70.09 589.94,72.24 588.24,74.41 586.55,76.59 584.86,78.78 583.16,80.99 581.47,83.22 579.77,85.46 578.08,87.74 576.38,90.04 574.69,92.37 572.99,94.74 571.3,97.15 569.6,99.6 567.91,102.1 566.22,104.65 564.52,107.28 562.83,110.01 561.13,112.82 559.44,115.7 557.74,118.64 556.05,121.63 554.35,124.65 552.66,127.71 550.96,130.8 549.27,133.91 547.58,137.03 545.88,140.17 544.19,143.32 542.49,146.48 540.8,149.65 539.1,152.83 537.41,156.01 535.71,159.2" class="bd"/><line x1="535.71" y1="145.4" x2="603.5" y2="43.7" stroke="#F8766D" stroke-width="1.85"/><polygon points="556.77,104.5 558.33,103.42 559.89,102.34 561.44,101.24 563,100.15 564.56,99.04 566.12,97.92 567.67,96.8 569.23,95.66 570.79,94.5 572.35,93.33 573.9,92.15 575.46,90.94 577.02,89.7 578.58,88.44 580.13,87.15 581.69,85.83 583.25,84.47 584.81,83.07 586.36,81.64 587.92,80.15 589.48,78.6 591.04,77.01 592.59,75.37 594.15,73.69 595.71,71.98 597.27,70.24 598.82,68.47 600.38,66.68 601.94,64.87 603.5,63.04 605.05,61.2 606.61,59.35 608.17,57.49 609.73,55.63 611.28,53.75 612.84,51.87 614.4,49.98 615.96,48.09 617.51,46.2 619.07,44.3 619.07,67.5 617.51,68.48 615.96,69.47 614.4,70.46 612.84,71.45 611.28,72.45 609.73,73.45 608.17,74.47 606.61,75.49 605.05,76.52 603.5,77.56 601.94,78.61 600.38,79.68 598.82,80.77 597.27,81.88 595.71,83.02 594.15,84.19 592.59,85.39 591.04,86.63 589.48,87.92 587.92,89.25 586.36,90.64 584.81,92.09 583.25,93.57 581.69,95.09 580.13,96.65 578.58,98.24 577.02,99.86 575.46,101.5 573.9,103.17 572.35,104.87 570.79,106.58 569.23,108.3 567.67,110.04 566.12,111.8 564.56,113.56 563,115.33 561.44,117.12 559.89,118.9 558.33,120.7 556.77,122.5" class="bd"/><line x1="556.77" y1="113.5" x2="619.07" y2="55.9" stroke="#00BFC4" stroke-width="1.85"/></g><line x1="535.9" y1="166.5" x2="535.9" y2="168.5" class="tk"/><text transform="translate(535.9,177.3) scale(1,1.1)" text-anchor="middle" class="tl">20</text><line x1="567.05" y1="166.5" x2="567.05" y2="168.5" class="tk"/><text transform="translate(567.05,177.3) scale(1,1.1)" text-anchor="middle" class="tl">30</text><line x1="598.2" y1="166.5" x2="598.2" y2="168.5" class="tk"/><text transform="translate(598.2,177.3) scale(1,1.1)" text-anchor="middle" class="tl">40</text><line x1="529.3" y1="164.36" x2="531.3" y2="164.36" class="tk"/><text transform="translate(526.9,167.96) scale(1,1.1)" text-anchor="end" class="tl">14</text><line x1="529.3" y1="133.35" x2="531.3" y2="133.35" class="tk"/><text transform="translate(526.9,136.95) scale(1,1.1)" text-anchor="end" class="tl">16</text><line x1="529.3" y1="102.35" x2="531.3" y2="102.35" class="tk"/><text transform="translate(526.9,105.95) scale(1,1.1)" text-anchor="end" class="tl">18</text><line x1="529.3" y1="71.35" x2="531.3" y2="71.35" class="tk"/><text transform="translate(526.9,74.95) scale(1,1.1)" text-anchor="end" class="tl">20</text><line x1="529.3" y1="40.35" x2="531.3" y2="40.35" class="tk"/><text transform="translate(526.9,43.95) scale(1,1.1)" text-anchor="end" class="tl">22</text><line x1="529.3" y1="9.34" x2="531.3" y2="9.34" class="tk"/><text transform="translate(526.9,12.94) scale(1,1.1)" text-anchor="end" class="tl">24</text><text transform="translate(585.95,188) scale(1,1.07)" text-anchor="middle" class="tt">Live weight (kg)</text><text transform="translate(513.5,74.85) rotate(-90) scale(1,1.07)" text-anchor="middle" class="tt">Chest width (cm)</text><clipPath id="c5"><rect x="34.9" y="197.8" width="85.1" height="164.8"/></clipPath><rect x="34.9" y="197.8" width="85.1" height="164.8" fill="#EBEBEB"/><g><line x1="53.12" y1="197.8" x2="53.12" y2="362.6" class="mn"/><line x1="81.98" y1="197.8" x2="81.98" y2="362.6" class="mn"/><line x1="110.83" y1="197.8" x2="110.83" y2="362.6" class="mn"/><line x1="34.9" y1="337.83" x2="120" y2="337.83" class="mn"/><line x1="34.9" y1="307.04" x2="120" y2="307.04" class="mn"/><line x1="34.9" y1="276.25" x2="120" y2="276.25" class="mn"/><line x1="34.9" y1="245.46" x2="120" y2="245.46" class="mn"/><line x1="34.9" y1="214.67" x2="120" y2="214.67" class="mn"/><line x1="38.7" y1="197.8" x2="38.7" y2="362.6" class="mj"/><line x1="67.55" y1="197.8" x2="67.55" y2="362.6" class="mj"/><line x1="96.4" y1="197.8" x2="96.4" y2="362.6" class="mj"/><line x1="34.9" y1="353.23" x2="120" y2="353.23" class="mj"/><line x1="34.9" y1="322.44" x2="120" y2="322.44" class="mj"/><line x1="34.9" y1="291.65" x2="120" y2="291.65" class="mj"/><line x1="34.9" y1="260.85" x2="120" y2="260.85" class="mj"/><line x1="34.9" y1="230.06" x2="120" y2="230.06" class="mj"/><line x1="34.9" y1="199.27" x2="120" y2="199.27" class="mj"/></g><g clip-path="url(#c5)"><circle cx="83.8" cy="230.06" r="1.35" fill="#F8766D"/><circle cx="99.6" cy="230.06" r="1.35" fill="#F8766D"/><circle cx="76.7" cy="242.38" r="1.35" fill="#F8766D"/><circle cx="69.2" cy="254.7" r="1.35" fill="#F8766D"/><circle cx="84.1" cy="267.01" r="1.35" fill="#F8766D"/><circle cx="80.7" cy="279.33" r="1.35" fill="#F8766D"/><circle cx="92" cy="279.33" r="1.35" fill="#F8766D"/><circle cx="100.8" cy="279.33" r="1.35" fill="#F8766D"/><circle cx="65.2" cy="291.65" r="1.35" fill="#F8766D"/><circle cx="74.2" cy="291.65" r="1.35" fill="#F8766D"/><circle cx="82.7" cy="291.65" r="1.35" fill="#F8766D"/><circle cx="88.1" cy="291.65" r="1.35" fill="#F8766D"/><circle cx="89.1" cy="291.65" r="1.35" fill="#F8766D"/><circle cx="54.6" cy="303.96" r="1.35" fill="#F8766D"/><circle cx="56.7" cy="303.96" r="1.35" fill="#F8766D"/><circle cx="58.7" cy="303.96" r="1.35" fill="#F8766D"/><circle cx="60.8" cy="303.96" r="1.35" fill="#F8766D"/><circle cx="64.4" cy="303.96" r="1.35" fill="#F8766D"/><circle cx="66.5" cy="303.96" r="1.35" fill="#F8766D"/><circle cx="68" cy="303.96" r="1.35" fill="#F8766D"/><circle cx="72.1" cy="303.96" r="1.35" fill="#F8766D"/><circle cx="94.8" cy="303.96" r="1.35" fill="#F8766D"/><circle cx="53.1" cy="316.28" r="1.35" fill="#F8766D"/><circle cx="63.4" cy="316.28" r="1.35" fill="#F8766D"/><circle cx="69" cy="316.28" r="1.35" fill="#F8766D"/><circle cx="70.6" cy="316.28" r="1.35" fill="#F8766D"/><circle cx="72.1" cy="316.28" r="1.35" fill="#F8766D"/><circle cx="74.2" cy="316.28" r="1.35" fill="#F8766D"/><circle cx="80.3" cy="316.28" r="1.35" fill="#F8766D"/><circle cx="49.4" cy="328.6" r="1.35" fill="#F8766D"/><circle cx="52" cy="328.6" r="1.35" fill="#F8766D"/><circle cx="55.1" cy="328.6" r="1.35" fill="#F8766D"/><circle cx="60.7" cy="328.6" r="1.35" fill="#F8766D"/><circle cx="66.4" cy="328.6" r="1.35" fill="#F8766D"/><circle cx="38.1" cy="340.91" r="1.35" fill="#F8766D"/><circle cx="42.2" cy="340.91" r="1.35" fill="#F8766D"/><circle cx="45.3" cy="340.91" r="1.35" fill="#F8766D"/><circle cx="109.5" cy="205.43" r="1.35" fill="#00BFC4"/><circle cx="115.2" cy="230.06" r="1.35" fill="#00BFC4"/><circle cx="74.8" cy="242.38" r="1.35" fill="#00BFC4"/><circle cx="91.9" cy="242.38" r="1.35" fill="#00BFC4"/><circle cx="97.6" cy="242.38" r="1.35" fill="#00BFC4"/><circle cx="98.5" cy="242.38" r="1.35" fill="#00BFC4"/><circle cx="104.3" cy="242.38" r="1.35" fill="#00BFC4"/><circle cx="116.5" cy="242.38" r="1.35" fill="#00BFC4"/><circle cx="67.9" cy="254.7" r="1.35" fill="#00BFC4"/><circle cx="75.1" cy="254.7" r="1.35" fill="#00BFC4"/><circle cx="79.9" cy="254.7" r="1.35" fill="#00BFC4"/><circle cx="87.7" cy="254.7" r="1.35" fill="#00BFC4"/><circle cx="89.5" cy="254.7" r="1.35" fill="#00BFC4"/><circle cx="91.5" cy="254.7" r="1.35" fill="#00BFC4"/><circle cx="95.6" cy="254.7" r="1.35" fill="#00BFC4"/><circle cx="100.3" cy="254.7" r="1.35" fill="#00BFC4"/><circle cx="102.3" cy="254.7" r="1.35" fill="#00BFC4"/><circle cx="66.3" cy="267.01" r="1.35" fill="#00BFC4"/><circle cx="76.1" cy="267.01" r="1.35" fill="#00BFC4"/><circle cx="77.6" cy="267.01" r="1.35" fill="#00BFC4"/><circle cx="89" cy="267.01" r="1.35" fill="#00BFC4"/><circle cx="90.5" cy="267.01" r="1.35" fill="#00BFC4"/><circle cx="92" cy="267.01" r="1.35" fill="#00BFC4"/><circle cx="94.1" cy="267.01" r="1.35" fill="#00BFC4"/><circle cx="96.2" cy="267.01" r="1.35" fill="#00BFC4"/><circle cx="98.2" cy="267.01" r="1.35" fill="#00BFC4"/><circle cx="100.3" cy="267.01" r="1.35" fill="#00BFC4"/><circle cx="102.3" cy="267.01" r="1.35" fill="#00BFC4"/><circle cx="70.4" cy="279.33" r="1.35" fill="#00BFC4"/><circle cx="72" cy="279.33" r="1.35" fill="#00BFC4"/><circle cx="73.5" cy="279.33" r="1.35" fill="#00BFC4"/><circle cx="75.1" cy="279.33" r="1.35" fill="#00BFC4"/><circle cx="78.1" cy="279.33" r="1.35" fill="#00BFC4"/><circle cx="86.9" cy="279.33" r="1.35" fill="#00BFC4"/><circle cx="88.4" cy="279.33" r="1.35" fill="#00BFC4"/><circle cx="94.6" cy="279.33" r="1.35" fill="#00BFC4"/><circle cx="68.7" cy="291.65" r="1.35" fill="#00BFC4"/><circle cx="76.7" cy="291.65" r="1.35" fill="#00BFC4"/><circle cx="78.3" cy="291.65" r="1.35" fill="#00BFC4"/><circle cx="80.3" cy="291.65" r="1.35" fill="#00BFC4"/><circle cx="84.8" cy="291.65" r="1.35" fill="#00BFC4"/><circle cx="77" cy="303.96" r="1.35" fill="#00BFC4"/><circle cx="78.8" cy="303.96" r="1.35" fill="#00BFC4"/><circle cx="80.9" cy="303.96" r="1.35" fill="#00BFC4"/><circle cx="84" cy="303.96" r="1.35" fill="#00BFC4"/><circle cx="58.2" cy="316.28" r="1.35" fill="#00BFC4"/><polygon points="38.53,328.3 40.1,326.79 41.67,325.27 43.24,323.75 44.8,322.22 46.37,320.68 47.94,319.13 49.51,317.57 51.08,315.99 52.65,314.4 54.22,312.78 55.79,311.14 57.36,309.47 58.93,307.76 60.5,306.01 62.07,304.2 63.64,302.32 65.21,300.38 66.78,298.35 68.35,296.25 69.92,294.12 71.49,291.97 73.05,289.79 74.62,287.59 76.19,285.37 77.76,283.12 79.33,280.86 80.9,278.59 82.47,276.29 84.04,273.99 85.61,271.67 87.18,269.34 88.75,267 90.32,264.65 91.89,262.29 93.46,259.92 95.03,257.55 96.6,255.17 98.17,252.78 99.74,250.39 101.3,248 101.3,266 99.74,267.82 98.17,269.65 96.6,271.48 95.03,273.31 93.46,275.15 91.89,277 90.32,278.86 88.75,280.72 87.18,282.6 85.61,284.48 84.04,286.38 82.47,288.29 80.9,290.21 79.33,292.15 77.76,294.1 76.19,296.07 74.62,298.07 73.05,300.08 71.49,302.12 69.92,304.18 68.35,306.26 66.78,308.38 65.21,310.57 63.64,312.84 62.07,315.18 60.5,317.58 58.93,320.04 57.36,322.55 55.79,325.09 54.22,327.67 52.65,330.27 51.08,332.89 49.51,335.53 47.94,338.18 46.37,340.85 44.8,343.52 43.24,346.21 41.67,348.9 40.1,351.6 38.53,354.3" class="bd"/><line x1="38.53" y1="341.3" x2="101.3" y2="257" stroke="#F8766D" stroke-width="1.85"/><polygon points="58.03,285.6 59.47,284.64 60.91,283.68 62.36,282.71 63.8,281.74 65.24,280.75 66.68,279.76 68.13,278.76 69.57,277.74 71.01,276.71 72.45,275.66 73.9,274.59 75.34,273.49 76.78,272.36 78.22,271.2 79.67,269.99 81.11,268.73 82.55,267.41 83.99,266.03 85.44,264.6 86.88,263.12 88.32,261.62 89.76,260.09 91.21,258.53 92.65,256.95 94.09,255.34 95.53,253.72 96.98,252.08 98.42,250.42 99.86,248.74 101.3,247.05 102.75,245.35 104.19,243.64 105.63,241.92 107.07,240.19 108.52,238.46 109.96,236.72 111.4,234.97 112.84,233.22 114.29,231.46 115.73,229.7 115.73,247.7 114.29,248.83 112.84,249.97 111.4,251.11 109.96,252.26 108.52,253.42 107.07,254.58 105.63,255.74 104.19,256.92 102.75,258.1 101.3,259.3 99.86,260.5 98.42,261.72 96.98,262.96 95.53,264.21 94.09,265.48 92.65,266.77 91.21,268.08 89.76,269.42 88.32,270.79 86.88,272.18 85.44,273.6 83.99,275.06 82.55,276.57 81.11,278.15 79.67,279.79 78.22,281.47 76.78,283.2 75.34,284.97 73.9,286.77 72.45,288.59 71.01,290.43 69.57,292.3 68.13,294.18 66.68,296.07 65.24,297.97 63.8,299.88 62.36,301.8 60.91,303.73 59.47,305.66 58.03,307.6" class="bd"/><line x1="58.03" y1="296.6" x2="115.73" y2="238.7" stroke="#00BFC4" stroke-width="1.85"/></g><line x1="38.7" y1="362.6" x2="38.7" y2="364.6" class="tk"/><text transform="translate(38.7,373.4) scale(1,1.1)" text-anchor="middle" class="tl">20</text><line x1="67.55" y1="362.6" x2="67.55" y2="364.6" class="tk"/><text transform="translate(67.55,373.4) scale(1,1.1)" text-anchor="middle" class="tl">30</text><line x1="96.4" y1="362.6" x2="96.4" y2="364.6" class="tk"/><text transform="translate(96.4,373.4) scale(1,1.1)" text-anchor="middle" class="tl">40</text><line x1="32.9" y1="353.23" x2="34.9" y2="353.23" class="tk"/><text transform="translate(30.5,356.83) scale(1,1.1)" text-anchor="end" class="tl">25.0</text><line x1="32.9" y1="322.44" x2="34.9" y2="322.44" class="tk"/><text transform="translate(30.5,326.04) scale(1,1.1)" text-anchor="end" class="tl">27.5</text><line x1="32.9" y1="291.65" x2="34.9" y2="291.65" class="tk"/><text transform="translate(30.5,295.25) scale(1,1.1)" text-anchor="end" class="tl">30.0</text><line x1="32.9" y1="260.85" x2="34.9" y2="260.85" class="tk"/><text transform="translate(30.5,264.45) scale(1,1.1)" text-anchor="end" class="tl">32.5</text><line x1="32.9" y1="230.06" x2="34.9" y2="230.06" class="tk"/><text transform="translate(30.5,233.66) scale(1,1.1)" text-anchor="end" class="tl">35.0</text><line x1="32.9" y1="199.27" x2="34.9" y2="199.27" class="tk"/><text transform="translate(30.5,202.87) scale(1,1.1)" text-anchor="end" class="tl">37.5</text><text transform="translate(74.25,385.3) scale(1,1.07)" text-anchor="middle" class="tt">Live weight (kg)</text><text transform="translate(9.1,271.2) rotate(-90) scale(1,1.07)" text-anchor="middle" class="tt">Chest depth (cm)</text><clipPath id="c6"><rect x="148.3" y="197.8" width="97.8" height="164.8"/></clipPath><rect x="148.3" y="197.8" width="97.8" height="164.8" fill="#EBEBEB"/><g><line x1="169.23" y1="197.8" x2="169.23" y2="362.6" class="mn"/><line x1="202.07" y1="197.8" x2="202.07" y2="362.6" class="mn"/><line x1="234.92" y1="197.8" x2="234.92" y2="362.6" class="mn"/><line x1="148.3" y1="324.04" x2="246.1" y2="324.04" class="mn"/><line x1="148.3" y1="266.69" x2="246.1" y2="266.69" class="mn"/><line x1="148.3" y1="209.34" x2="246.1" y2="209.34" class="mn"/><line x1="152.8" y1="197.8" x2="152.8" y2="362.6" class="mj"/><line x1="185.65" y1="197.8" x2="185.65" y2="362.6" class="mj"/><line x1="218.5" y1="197.8" x2="218.5" y2="362.6" class="mj"/><line x1="148.3" y1="352.72" x2="246.1" y2="352.72" class="mj"/><line x1="148.3" y1="295.37" x2="246.1" y2="295.37" class="mj"/><line x1="148.3" y1="238.02" x2="246.1" y2="238.02" class="mj"/></g><g clip-path="url(#c6)"><circle cx="202.8" cy="238.02" r="1.35" fill="#F8766D"/><circle cx="209.8" cy="238.02" r="1.35" fill="#F8766D"/><circle cx="182.5" cy="266.69" r="1.35" fill="#F8766D"/><circle cx="190.6" cy="266.69" r="1.35" fill="#F8766D"/><circle cx="221.2" cy="266.69" r="1.35" fill="#F8766D"/><circle cx="174.2" cy="295.37" r="1.35" fill="#F8766D"/><circle cx="176.2" cy="295.37" r="1.35" fill="#F8766D"/><circle cx="178.1" cy="295.37" r="1.35" fill="#F8766D"/><circle cx="181" cy="295.37" r="1.35" fill="#F8766D"/><circle cx="184" cy="295.37" r="1.35" fill="#F8766D"/><circle cx="186.9" cy="295.37" r="1.35" fill="#F8766D"/><circle cx="192.7" cy="295.37" r="1.35" fill="#F8766D"/><circle cx="194.2" cy="295.37" r="1.35" fill="#F8766D"/><circle cx="195.6" cy="295.37" r="1.35" fill="#F8766D"/><circle cx="197.1" cy="295.37" r="1.35" fill="#F8766D"/><circle cx="198.5" cy="295.37" r="1.35" fill="#F8766D"/><circle cx="200" cy="295.37" r="1.35" fill="#F8766D"/><circle cx="201.4" cy="295.37" r="1.35" fill="#F8766D"/><circle cx="202.9" cy="295.37" r="1.35" fill="#F8766D"/><circle cx="204.4" cy="295.37" r="1.35" fill="#F8766D"/><circle cx="205.8" cy="295.37" r="1.35" fill="#F8766D"/><circle cx="207.8" cy="295.37" r="1.35" fill="#F8766D"/><circle cx="209.2" cy="295.37" r="1.35" fill="#F8766D"/><circle cx="214.1" cy="295.37" r="1.35" fill="#F8766D"/><circle cx="217" cy="295.37" r="1.35" fill="#F8766D"/><circle cx="158.9" cy="324.04" r="1.35" fill="#F8766D"/><circle cx="160.9" cy="324.04" r="1.35" fill="#F8766D"/><circle cx="169.9" cy="324.04" r="1.35" fill="#F8766D"/><circle cx="171.8" cy="324.04" r="1.35" fill="#F8766D"/><circle cx="178.2" cy="324.04" r="1.35" fill="#F8766D"/><circle cx="151.9" cy="352.72" r="1.35" fill="#F8766D"/><circle cx="155.7" cy="352.72" r="1.35" fill="#F8766D"/><circle cx="164.1" cy="352.72" r="1.35" fill="#F8766D"/><circle cx="168.3" cy="352.72" r="1.35" fill="#F8766D"/><circle cx="171.8" cy="352.72" r="1.35" fill="#F8766D"/><circle cx="210.4" cy="209.34" r="1.35" fill="#00BFC4"/><circle cx="233.6" cy="209.34" r="1.35" fill="#00BFC4"/><circle cx="196.8" cy="238.02" r="1.35" fill="#00BFC4"/><circle cx="198.5" cy="238.02" r="1.35" fill="#00BFC4"/><circle cx="200.2" cy="238.02" r="1.35" fill="#00BFC4"/><circle cx="204.9" cy="238.02" r="1.35" fill="#00BFC4"/><circle cx="208.7" cy="238.02" r="1.35" fill="#00BFC4"/><circle cx="211.3" cy="238.02" r="1.35" fill="#00BFC4"/><circle cx="213" cy="238.02" r="1.35" fill="#00BFC4"/><circle cx="214.7" cy="238.02" r="1.35" fill="#00BFC4"/><circle cx="216.4" cy="238.02" r="1.35" fill="#00BFC4"/><circle cx="218.1" cy="238.02" r="1.35" fill="#00BFC4"/><circle cx="219.8" cy="238.02" r="1.35" fill="#00BFC4"/><circle cx="221.9" cy="238.02" r="1.35" fill="#00BFC4"/><circle cx="223.6" cy="238.02" r="1.35" fill="#00BFC4"/><circle cx="225.3" cy="238.02" r="1.35" fill="#00BFC4"/><circle cx="227.1" cy="238.02" r="1.35" fill="#00BFC4"/><circle cx="228.8" cy="238.02" r="1.35" fill="#00BFC4"/><circle cx="241.1" cy="238.02" r="1.35" fill="#00BFC4"/><circle cx="184.6" cy="266.69" r="1.35" fill="#00BFC4"/><circle cx="188.8" cy="266.69" r="1.35" fill="#00BFC4"/><circle cx="192.4" cy="266.69" r="1.35" fill="#00BFC4"/><circle cx="194" cy="266.69" r="1.35" fill="#00BFC4"/><circle cx="195.6" cy="266.69" r="1.35" fill="#00BFC4"/><circle cx="197.1" cy="266.69" r="1.35" fill="#00BFC4"/><circle cx="198.7" cy="266.69" r="1.35" fill="#00BFC4"/><circle cx="200.3" cy="266.69" r="1.35" fill="#00BFC4"/><circle cx="207.1" cy="266.69" r="1.35" fill="#00BFC4"/><circle cx="208.7" cy="266.69" r="1.35" fill="#00BFC4"/><circle cx="218.1" cy="266.69" r="1.35" fill="#00BFC4"/><circle cx="179.6" cy="295.37" r="1.35" fill="#00BFC4"/><circle cx="182.5" cy="295.37" r="1.35" fill="#00BFC4"/><circle cx="185.4" cy="295.37" r="1.35" fill="#00BFC4"/><circle cx="190.8" cy="295.37" r="1.35" fill="#00BFC4"/><polygon points="152.6,331 154.39,329.29 156.18,327.57 157.96,325.84 159.75,324.11 161.54,322.37 163.33,320.63 165.11,318.87 166.9,317.1 168.69,315.32 170.47,313.52 172.26,311.7 174.05,309.85 175.83,307.96 177.62,306.04 179.41,304.06 181.2,302.02 182.98,299.92 184.77,297.73 186.56,295.47 188.34,293.17 190.13,290.84 191.92,288.49 193.7,286.11 195.49,283.71 197.28,281.29 199.07,278.85 200.85,276.39 202.64,273.92 204.43,271.43 206.21,268.93 208,266.42 209.79,263.9 211.58,261.37 213.36,258.84 215.15,256.29 216.94,253.74 218.72,251.19 220.51,248.63 222.3,246.07 224.08,243.5 224.08,260.5 222.3,262.47 220.51,264.45 218.72,266.43 216.94,268.42 215.15,270.41 213.36,272.4 211.58,274.41 209.79,276.42 208,278.44 206.21,280.47 204.43,282.51 202.64,284.56 200.85,286.63 199.07,288.71 197.28,290.81 195.49,292.93 193.7,295.07 191.92,297.23 190.13,299.42 188.34,301.63 186.56,303.87 184.77,306.15 182.98,308.5 181.2,310.94 179.41,313.44 177.62,316 175.83,318.62 174.05,321.27 172.26,323.96 170.47,326.68 168.69,329.42 166.9,332.18 165.11,334.95 163.33,337.73 161.54,340.53 159.75,343.33 157.96,346.14 156.18,348.95 154.39,351.77 152.6,354.6" class="bd"/><line x1="152.6" y1="342.8" x2="224.08" y2="252" stroke="#F8766D" stroke-width="1.85"/><polygon points="174.81,281.6 176.45,280.18 178.09,278.76 179.74,277.33 181.38,275.9 183.02,274.46 184.66,273.01 186.31,271.55 187.95,270.08 189.59,268.6 191.23,267.1 192.88,265.58 194.52,264.03 196.16,262.46 197.8,260.86 199.45,259.21 201.09,257.52 202.73,255.78 204.37,253.97 206.02,252.11 207.66,250.21 209.3,248.26 210.94,246.28 212.59,244.26 214.23,242.21 215.87,240.14 217.51,238.03 219.16,235.91 220.8,233.77 222.44,231.61 224.08,229.44 225.73,227.26 227.37,225.07 229.01,222.87 230.65,220.66 232.3,218.44 233.94,216.22 235.58,214 237.22,211.77 238.87,209.54 240.51,207.3 240.51,226.5 238.87,228 237.22,229.5 235.58,231.01 233.94,232.52 232.3,234.03 230.65,235.55 229.01,237.08 227.37,238.61 225.73,240.16 224.08,241.71 222.44,243.27 220.8,244.85 219.16,246.44 217.51,248.06 215.87,249.69 214.23,251.35 212.59,253.03 210.94,254.75 209.3,256.5 207.66,258.29 206.02,260.12 204.37,262 202.73,263.93 201.09,265.92 199.45,267.96 197.8,270.05 196.16,272.18 194.52,274.35 192.88,276.54 191.23,278.75 189.59,280.99 187.95,283.24 186.31,285.5 184.66,287.78 183.02,290.07 181.38,292.36 179.74,294.66 178.09,296.97 176.45,299.28 174.81,301.6" class="bd"/><line x1="174.81" y1="291.6" x2="240.51" y2="216.9" stroke="#00BFC4" stroke-width="1.85"/></g><line x1="152.8" y1="362.6" x2="152.8" y2="364.6" class="tk"/><text transform="translate(152.8,373.4) scale(1,1.1)" text-anchor="middle" class="tl">20</text><line x1="185.65" y1="362.6" x2="185.65" y2="364.6" class="tk"/><text transform="translate(185.65,373.4) scale(1,1.1)" text-anchor="middle" class="tl">30</text><line x1="218.5" y1="362.6" x2="218.5" y2="364.6" class="tk"/><text transform="translate(218.5,373.4) scale(1,1.1)" text-anchor="middle" class="tl">40</text><line x1="146.3" y1="352.72" x2="148.3" y2="352.72" class="tk"/><text transform="translate(143.9,356.32) scale(1,1.1)" text-anchor="end" class="tl">6</text><line x1="146.3" y1="295.37" x2="148.3" y2="295.37" class="tk"/><text transform="translate(143.9,298.97) scale(1,1.1)" text-anchor="end" class="tl">7</text><line x1="146.3" y1="238.02" x2="148.3" y2="238.02" class="tk"/><text transform="translate(143.9,241.62) scale(1,1.1)" text-anchor="end" class="tl">8</text><text transform="translate(194.9,385.3) scale(1,1.07)" text-anchor="middle" class="tt">Live weight (kg)</text><text transform="translate(135.2,270.8) rotate(-90) scale(1,1.07)" text-anchor="middle" class="tt">Tube circumference (cm)</text><clipPath id="c7"><rect x="289.2" y="197.8" width="82.8" height="164.8"/></clipPath><rect x="289.2" y="197.8" width="82.8" height="164.8" fill="#EBEBEB"/><g><line x1="307.23" y1="197.8" x2="307.23" y2="362.6" class="mn"/><line x1="335.27" y1="197.8" x2="335.27" y2="362.6" class="mn"/><line x1="363.33" y1="197.8" x2="363.33" y2="362.6" class="mn"/><line x1="289.2" y1="343.92" x2="372" y2="343.92" class="mn"/><line x1="289.2" y1="298.02" x2="372" y2="298.02" class="mn"/><line x1="289.2" y1="252.12" x2="372" y2="252.12" class="mn"/><line x1="289.2" y1="206.22" x2="372" y2="206.22" class="mn"/><line x1="293.2" y1="197.8" x2="293.2" y2="362.6" class="mj"/><line x1="321.25" y1="197.8" x2="321.25" y2="362.6" class="mj"/><line x1="349.3" y1="197.8" x2="349.3" y2="362.6" class="mj"/><line x1="289.2" y1="320.97" x2="372" y2="320.97" class="mj"/><line x1="289.2" y1="275.07" x2="372" y2="275.07" class="mj"/><line x1="289.2" y1="229.17" x2="372" y2="229.17" class="mj"/></g><g clip-path="url(#c7)"><circle cx="312" cy="233.1" r="1.35" fill="#F8766D"/><circle cx="320.3" cy="233.1" r="1.35" fill="#F8766D"/><circle cx="321.9" cy="236" r="1.35" fill="#F8766D"/><circle cx="347.7" cy="207.5" r="1.35" fill="#F8766D"/><circle cx="352.1" cy="219.1" r="1.35" fill="#F8766D"/><circle cx="337.3" cy="219.1" r="1.35" fill="#F8766D"/><circle cx="338" cy="228.2" r="1.35" fill="#F8766D"/><circle cx="336.9" cy="237.4" r="1.35" fill="#F8766D"/><circle cx="340.5" cy="237.1" r="1.35" fill="#F8766D"/><circle cx="300.3" cy="240.2" r="1.35" fill="#F8766D"/><circle cx="311.4" cy="239.6" r="1.35" fill="#F8766D"/><circle cx="323.8" cy="245.3" r="1.35" fill="#F8766D"/><circle cx="292.8" cy="251.2" r="1.35" fill="#F8766D"/><circle cx="323" cy="256.9" r="1.35" fill="#F8766D"/><circle cx="325.9" cy="260.9" r="1.35" fill="#F8766D"/><circle cx="317.9" cy="262.8" r="1.35" fill="#F8766D"/><circle cx="317.3" cy="269.1" r="1.35" fill="#F8766D"/><circle cx="319.8" cy="272.6" r="1.35" fill="#F8766D"/><circle cx="325.7" cy="268.8" r="1.35" fill="#F8766D"/><circle cx="309.5" cy="278.5" r="1.35" fill="#F8766D"/><circle cx="332.3" cy="243.6" r="1.35" fill="#F8766D"/><circle cx="333.7" cy="249.3" r="1.35" fill="#F8766D"/><circle cx="336.9" cy="250.7" r="1.35" fill="#F8766D"/><circle cx="341.8" cy="258" r="1.35" fill="#F8766D"/><circle cx="345" cy="263.9" r="1.35" fill="#F8766D"/><circle cx="334" cy="277.9" r="1.35" fill="#F8766D"/><circle cx="336.5" cy="278" r="1.35" fill="#F8766D"/><circle cx="334.5" cy="281.3" r="1.35" fill="#F8766D"/><circle cx="327.3" cy="266.2" r="1.35" fill="#F8766D"/><circle cx="328.6" cy="280.6" r="1.35" fill="#F8766D"/><circle cx="317.9" cy="293.5" r="1.35" fill="#F8766D"/><circle cx="307.4" cy="301.1" r="1.35" fill="#F8766D"/><circle cx="314.7" cy="300.3" r="1.35" fill="#F8766D"/><circle cx="318.2" cy="300.3" r="1.35" fill="#F8766D"/><circle cx="309.5" cy="308.6" r="1.35" fill="#F8766D"/><circle cx="318.7" cy="320.5" r="1.35" fill="#F8766D"/><circle cx="314.9" cy="294" r="1.35" fill="#F8766D"/><circle cx="353.7" cy="283" r="1.35" fill="#F8766D"/><circle cx="352.4" cy="288.4" r="1.35" fill="#F8766D"/><circle cx="351" cy="295.3" r="1.35" fill="#F8766D"/><circle cx="330.5" cy="300.2" r="1.35" fill="#F8766D"/><circle cx="337.3" cy="320.5" r="1.35" fill="#F8766D"/><circle cx="306.5" cy="323.2" r="1.35" fill="#F8766D"/><circle cx="317.4" cy="324.2" r="1.35" fill="#F8766D"/><circle cx="295.7" cy="328.6" r="1.35" fill="#F8766D"/><circle cx="329.8" cy="326.6" r="1.35" fill="#F8766D"/><circle cx="320.3" cy="332" r="1.35" fill="#F8766D"/><circle cx="303.3" cy="345.8" r="1.35" fill="#F8766D"/><circle cx="298.9" cy="355.3" r="1.35" fill="#F8766D"/><circle cx="327" cy="232.6" r="1.35" fill="#00BFC4"/><circle cx="368.3" cy="205" r="1.35" fill="#00BFC4"/><circle cx="344.5" cy="208.5" r="1.35" fill="#00BFC4"/><circle cx="353.1" cy="210.4" r="1.35" fill="#00BFC4"/><circle cx="356.1" cy="211.8" r="1.35" fill="#00BFC4"/><circle cx="352.4" cy="216.4" r="1.35" fill="#00BFC4"/><circle cx="351.7" cy="221.2" r="1.35" fill="#00BFC4"/><circle cx="345.3" cy="227.7" r="1.35" fill="#00BFC4"/><circle cx="335.5" cy="232" r="1.35" fill="#00BFC4"/><circle cx="337.7" cy="234.2" r="1.35" fill="#00BFC4"/><circle cx="347.7" cy="238.8" r="1.35" fill="#00BFC4"/><circle cx="325.9" cy="252.6" r="1.35" fill="#00BFC4"/><circle cx="321.9" cy="263.4" r="1.35" fill="#00BFC4"/><circle cx="326.8" cy="263.7" r="1.35" fill="#00BFC4"/><circle cx="333.7" cy="244.7" r="1.35" fill="#00BFC4"/><circle cx="339.4" cy="244.3" r="1.35" fill="#00BFC4"/><circle cx="332.9" cy="251" r="1.35" fill="#00BFC4"/><circle cx="333.4" cy="255.1" r="1.35" fill="#00BFC4"/><circle cx="345" cy="252.6" r="1.35" fill="#00BFC4"/><circle cx="355.8" cy="250.7" r="1.35" fill="#00BFC4"/><circle cx="350.4" cy="258.5" r="1.35" fill="#00BFC4"/><circle cx="333.4" cy="262" r="1.35" fill="#00BFC4"/><circle cx="347.7" cy="262.8" r="1.35" fill="#00BFC4"/><circle cx="341.3" cy="268.2" r="1.35" fill="#00BFC4"/><circle cx="348.8" cy="268.8" r="1.35" fill="#00BFC4"/><circle cx="341.3" cy="277.4" r="1.35" fill="#00BFC4"/><circle cx="343.4" cy="277.4" r="1.35" fill="#00BFC4"/><circle cx="351.5" cy="276.9" r="1.35" fill="#00BFC4"/><circle cx="361.8" cy="280" r="1.35" fill="#00BFC4"/><circle cx="311.7" cy="282.2" r="1.35" fill="#00BFC4"/><circle cx="320.3" cy="290.3" r="1.35" fill="#00BFC4"/><circle cx="321.4" cy="297.3" r="1.35" fill="#00BFC4"/><circle cx="320.5" cy="299.4" r="1.35" fill="#00BFC4"/><circle cx="328.4" cy="297.1" r="1.35" fill="#00BFC4"/><circle cx="330.7" cy="309.2" r="1.35" fill="#00BFC4"/><circle cx="323.8" cy="312.9" r="1.35" fill="#00BFC4"/><circle cx="322.5" cy="316.7" r="1.35" fill="#00BFC4"/><circle cx="317.9" cy="320.2" r="1.35" fill="#00BFC4"/><circle cx="367.7" cy="283.5" r="1.35" fill="#00BFC4"/><circle cx="337.5" cy="287.6" r="1.35" fill="#00BFC4"/><circle cx="350.4" cy="287.8" r="1.35" fill="#00BFC4"/><circle cx="357.5" cy="287.3" r="1.35" fill="#00BFC4"/><circle cx="354.2" cy="291.9" r="1.35" fill="#00BFC4"/><circle cx="331.5" cy="316.2" r="1.35" fill="#00BFC4"/><polygon points="293.2,282.2 294.72,281.88 296.24,281.54 297.77,281.2 299.29,280.84 300.81,280.48 302.33,280.09 303.85,279.68 305.37,279.25 306.9,278.8 308.42,278.3 309.94,277.77 311.46,277.19 312.98,276.54 314.5,275.83 316.03,275.02 317.55,274.12 319.07,273.1 320.59,271.96 322.11,270.7 323.63,269.33 325.16,267.88 326.68,266.34 328.2,264.72 329.72,263.03 331.24,261.29 332.76,259.49 334.29,257.65 335.81,255.77 337.33,253.86 338.85,251.92 340.37,249.96 341.89,247.98 343.42,245.99 344.94,243.98 346.46,241.95 347.98,239.92 349.5,237.88 351.03,235.82 352.55,233.77 354.07,231.7 354.07,272.7 352.55,273.16 351.03,273.63 349.5,274.1 347.98,274.58 346.46,275.07 344.94,275.57 343.42,276.09 341.89,276.62 340.37,277.16 338.85,277.73 337.33,278.32 335.81,278.93 334.29,279.58 332.76,280.26 331.24,280.99 329.72,281.77 328.2,282.61 326.68,283.51 325.16,284.5 323.63,285.57 322.11,286.73 320.59,287.99 319.07,289.37 317.55,290.88 316.03,292.5 314.5,294.22 312.98,296.03 311.46,297.91 309.94,299.85 308.42,301.85 306.9,303.88 305.37,305.95 303.85,308.04 302.33,310.16 300.81,312.3 299.29,314.46 297.77,316.62 296.24,318.81 294.72,321 293.2,323.2" class="bd"/><line x1="293.2" y1="302.7" x2="354.07" y2="252.2" stroke="#F8766D" stroke-width="1.85"/><polygon points="311.99,281.8 313.39,280.87 314.78,279.92 316.18,278.97 317.58,278.01 318.97,277.03 320.37,276.04 321.76,275.04 323.16,274.01 324.55,272.96 325.95,271.89 327.34,270.79 328.74,269.65 330.13,268.48 331.53,267.26 332.93,265.99 334.32,264.66 335.72,263.28 337.11,261.83 338.51,260.32 339.9,258.73 341.3,257.06 342.69,255.32 344.09,253.51 345.49,251.64 346.88,249.72 348.28,247.75 349.67,245.74 351.07,243.7 352.46,241.63 353.86,239.53 355.25,237.41 356.65,235.28 358.04,233.13 359.44,230.97 360.84,228.79 362.23,226.61 363.63,224.42 365.02,222.22 366.42,220.01 367.81,217.8 367.81,252.8 366.42,253.64 365.02,254.48 363.63,255.33 362.23,256.19 360.84,257.06 359.44,257.93 358.04,258.82 356.65,259.72 355.25,260.64 353.86,261.57 352.46,262.52 351.07,263.5 349.67,264.51 348.28,265.55 346.88,266.63 345.49,267.76 344.09,268.94 342.69,270.18 341.3,271.49 339.9,272.87 338.51,274.33 337.11,275.87 335.72,277.47 334.32,279.14 332.93,280.86 331.53,282.64 330.13,284.47 328.74,286.35 327.34,288.26 325.95,290.21 324.55,292.19 323.16,294.19 321.76,296.21 320.37,298.26 318.97,300.32 317.58,302.39 316.18,304.48 314.78,306.58 313.39,308.68 311.99,310.8" class="bd"/><line x1="311.99" y1="296.3" x2="367.81" y2="235.3" stroke="#00BFC4" stroke-width="1.85"/></g><line x1="293.2" y1="362.6" x2="293.2" y2="364.6" class="tk"/><text transform="translate(293.2,373.4) scale(1,1.1)" text-anchor="middle" class="tl">20</text><line x1="321.25" y1="362.6" x2="321.25" y2="364.6" class="tk"/><text transform="translate(321.25,373.4) scale(1,1.1)" text-anchor="middle" class="tl">30</text><line x1="349.3" y1="362.6" x2="349.3" y2="364.6" class="tk"/><text transform="translate(349.3,373.4) scale(1,1.1)" text-anchor="middle" class="tl">40</text><line x1="287.2" y1="320.97" x2="289.2" y2="320.97" class="tk"/><text transform="translate(284.8,324.57) scale(1,1.1)" text-anchor="end" class="tl">500</text><line x1="287.2" y1="275.07" x2="289.2" y2="275.07" class="tk"/><text transform="translate(284.8,278.67) scale(1,1.1)" text-anchor="end" class="tl">750</text><line x1="287.2" y1="229.17" x2="289.2" y2="229.17" class="tk"/><text transform="translate(284.8,232.77) scale(1,1.1)" text-anchor="end" class="tl">1000</text><text transform="translate(331.8,385.3) scale(1,1.07)" text-anchor="middle" class="tt">Live weight (kg)</text><text transform="translate(261,268.4) rotate(-90) scale(1,1.07)" text-anchor="middle" class="tt" style="font-size:9.05px">Eye muscle area (mm<tspan font-size="5.8" dy="-3.4">2</tspan><tspan dy="3.4">)</tspan></text><clipPath id="c8"><rect x="399.9" y="197.8" width="98.1" height="164.8"/></clipPath><rect x="399.9" y="197.8" width="98.1" height="164.8" fill="#EBEBEB"/><g><line x1="421.7" y1="197.8" x2="421.7" y2="362.6" class="mn"/><line x1="454.7" y1="197.8" x2="454.7" y2="362.6" class="mn"/><line x1="487.7" y1="197.8" x2="487.7" y2="362.6" class="mn"/><line x1="399.9" y1="336.62" x2="498" y2="336.62" class="mn"/><line x1="399.9" y1="299.12" x2="498" y2="299.12" class="mn"/><line x1="399.9" y1="261.61" x2="498" y2="261.61" class="mn"/><line x1="399.9" y1="224.09" x2="498" y2="224.09" class="mn"/><line x1="405.2" y1="197.8" x2="405.2" y2="362.6" class="mj"/><line x1="438.2" y1="197.8" x2="438.2" y2="362.6" class="mj"/><line x1="471.2" y1="197.8" x2="471.2" y2="362.6" class="mj"/><line x1="399.9" y1="355.38" x2="498" y2="355.38" class="mj"/><line x1="399.9" y1="317.87" x2="498" y2="317.87" class="mj"/><line x1="399.9" y1="280.36" x2="498" y2="280.36" class="mj"/><line x1="399.9" y1="242.85" x2="498" y2="242.85" class="mj"/><line x1="399.9" y1="205.34" x2="498" y2="205.34" class="mj"/></g><g clip-path="url(#c8)"><circle cx="420.5" cy="235.2" r="1.35" fill="#F8766D"/><circle cx="427.2" cy="232.8" r="1.35" fill="#F8766D"/><circle cx="469.5" cy="205.3" r="1.35" fill="#F8766D"/><circle cx="423.7" cy="265" r="1.35" fill="#F8766D"/><circle cx="416.4" cy="280.2" r="1.35" fill="#F8766D"/><circle cx="426.1" cy="279.4" r="1.35" fill="#F8766D"/><circle cx="432.9" cy="279.4" r="1.35" fill="#F8766D"/><circle cx="439.7" cy="279.4" r="1.35" fill="#F8766D"/><circle cx="446.4" cy="280.2" r="1.35" fill="#F8766D"/><circle cx="453.9" cy="264.3" r="1.35" fill="#F8766D"/><circle cx="455.7" cy="265.4" r="1.35" fill="#F8766D"/><circle cx="461.1" cy="277.2" r="1.35" fill="#F8766D"/><circle cx="461.1" cy="278.6" r="1.35" fill="#F8766D"/><circle cx="474.4" cy="279.4" r="1.35" fill="#F8766D"/><circle cx="421.6" cy="295.2" r="1.35" fill="#F8766D"/><circle cx="430.2" cy="294.4" r="1.35" fill="#F8766D"/><circle cx="443.2" cy="295.2" r="1.35" fill="#F8766D"/><circle cx="448.4" cy="286.9" r="1.35" fill="#F8766D"/><circle cx="423.7" cy="310.6" r="1.35" fill="#F8766D"/><circle cx="430" cy="310.3" r="1.35" fill="#F8766D"/><circle cx="433.7" cy="310.3" r="1.35" fill="#F8766D"/><circle cx="436.7" cy="306" r="1.35" fill="#F8766D"/><circle cx="443.2" cy="309" r="1.35" fill="#F8766D"/><circle cx="434.3" cy="313.8" r="1.35" fill="#F8766D"/><circle cx="435.6" cy="313.8" r="1.35" fill="#F8766D"/><circle cx="407.6" cy="323.6" r="1.35" fill="#F8766D"/><circle cx="453.1" cy="287.6" r="1.35" fill="#F8766D"/><circle cx="476.8" cy="294.7" r="1.35" fill="#F8766D"/><circle cx="433.7" cy="323.6" r="1.35" fill="#F8766D"/><circle cx="435.8" cy="325.7" r="1.35" fill="#F8766D"/><circle cx="441.1" cy="323.9" r="1.35" fill="#F8766D"/><circle cx="438.8" cy="335.5" r="1.35" fill="#F8766D"/><circle cx="404.4" cy="355.5" r="1.35" fill="#F8766D"/><circle cx="411.4" cy="355.5" r="1.35" fill="#F8766D"/><circle cx="434.6" cy="353.6" r="1.35" fill="#F8766D"/><circle cx="446.4" cy="355.5" r="1.35" fill="#F8766D"/><circle cx="447.9" cy="355.5" r="1.35" fill="#F8766D"/><circle cx="474.8" cy="335.2" r="1.35" fill="#F8766D"/><circle cx="451.1" cy="338.9" r="1.35" fill="#F8766D"/><circle cx="453" cy="340.4" r="1.35" fill="#F8766D"/><circle cx="451.4" cy="320.2" r="1.35" fill="#F8766D"/><circle cx="456.7" cy="324.8" r="1.35" fill="#F8766D"/><circle cx="457.9" cy="324.1" r="1.35" fill="#F8766D"/><circle cx="462.7" cy="324.3" r="1.35" fill="#F8766D"/><circle cx="465.9" cy="321.1" r="1.35" fill="#F8766D"/><circle cx="473" cy="321.1" r="1.35" fill="#F8766D"/><circle cx="456.7" cy="332.5" r="1.35" fill="#F8766D"/><circle cx="444.8" cy="278.9" r="1.35" fill="#00BFC4"/><circle cx="452.8" cy="244.5" r="1.35" fill="#00BFC4"/><circle cx="478.4" cy="249.4" r="1.35" fill="#00BFC4"/><circle cx="479.2" cy="248.2" r="1.35" fill="#00BFC4"/><circle cx="475.8" cy="259.2" r="1.35" fill="#00BFC4"/><circle cx="474.4" cy="264.3" r="1.35" fill="#00BFC4"/><circle cx="473.8" cy="265.2" r="1.35" fill="#00BFC4"/><circle cx="452.8" cy="265.4" r="1.35" fill="#00BFC4"/><circle cx="454.9" cy="279.4" r="1.35" fill="#00BFC4"/><circle cx="477.1" cy="276.5" r="1.35" fill="#00BFC4"/><circle cx="485.9" cy="277.2" r="1.35" fill="#00BFC4"/><circle cx="426.8" cy="294.4" r="1.35" fill="#00BFC4"/><circle cx="444.5" cy="291.9" r="1.35" fill="#00BFC4"/><circle cx="447.7" cy="291.9" r="1.35" fill="#00BFC4"/><circle cx="446.6" cy="287.4" r="1.35" fill="#00BFC4"/><circle cx="441" cy="317.1" r="1.35" fill="#00BFC4"/><circle cx="446.4" cy="313.3" r="1.35" fill="#00BFC4"/><circle cx="465.4" cy="287.4" r="1.35" fill="#00BFC4"/><circle cx="461.1" cy="291.9" r="1.35" fill="#00BFC4"/><circle cx="472.7" cy="291.7" r="1.35" fill="#00BFC4"/><circle cx="469.5" cy="306.6" r="1.35" fill="#00BFC4"/><circle cx="466.3" cy="309" r="1.35" fill="#00BFC4"/><circle cx="459.8" cy="309" r="1.35" fill="#00BFC4"/><circle cx="462" cy="309" r="1.35" fill="#00BFC4"/><circle cx="450.1" cy="307.9" r="1.35" fill="#00BFC4"/><circle cx="480.5" cy="317.1" r="1.35" fill="#00BFC4"/><circle cx="493.8" cy="302" r="1.35" fill="#00BFC4"/><circle cx="492.7" cy="309" r="1.35" fill="#00BFC4"/><circle cx="439.5" cy="325.7" r="1.35" fill="#00BFC4"/><circle cx="437.9" cy="332.5" r="1.35" fill="#00BFC4"/><circle cx="436.4" cy="335.5" r="1.35" fill="#00BFC4"/><circle cx="444.8" cy="335.5" r="1.35" fill="#00BFC4"/><circle cx="448.5" cy="335.5" r="1.35" fill="#00BFC4"/><circle cx="436.9" cy="340.1" r="1.35" fill="#00BFC4"/><circle cx="439.2" cy="340.1" r="1.35" fill="#00BFC4"/><circle cx="448.5" cy="340.1" r="1.35" fill="#00BFC4"/><circle cx="433.7" cy="355.7" r="1.35" fill="#00BFC4"/><circle cx="457.6" cy="335.5" r="1.35" fill="#00BFC4"/><circle cx="472.7" cy="335.2" r="1.35" fill="#00BFC4"/><circle cx="456.8" cy="321.1" r="1.35" fill="#00BFC4"/><circle cx="449.3" cy="324.1" r="1.35" fill="#00BFC4"/><circle cx="450.8" cy="324.1" r="1.35" fill="#00BFC4"/><circle cx="452.3" cy="324.1" r="1.35" fill="#00BFC4"/><circle cx="461" cy="324.1" r="1.35" fill="#00BFC4"/><circle cx="470.2" cy="322" r="1.35" fill="#00BFC4"/><circle cx="469" cy="323.9" r="1.35" fill="#00BFC4"/><circle cx="464.1" cy="328.8" r="1.35" fill="#00BFC4"/><circle cx="460.1" cy="312.8" r="1.35" fill="#00BFC4"/><circle cx="461.9" cy="315.9" r="1.35" fill="#00BFC4"/><polygon points="405,290.8 406.8,291.45 408.59,292.09 410.39,292.73 412.18,293.35 413.98,293.98 415.77,294.59 417.57,295.19 419.36,295.78 421.16,296.35 422.95,296.9 424.75,297.43 426.54,297.93 428.34,298.39 430.13,298.81 431.93,299.18 433.73,299.47 435.52,299.68 437.32,299.79 439.11,299.78 440.91,299.64 442.7,299.38 444.5,299.03 446.29,298.62 448.09,298.15 449.88,297.61 451.68,297.03 453.47,296.39 455.27,295.72 457.06,295.01 458.86,294.28 460.65,293.52 462.45,292.74 464.24,291.94 466.04,291.12 467.83,290.29 469.63,289.45 471.42,288.6 473.22,287.74 475.01,286.87 476.81,286 476.81,316 475.01,315.64 473.22,315.29 471.42,314.94 469.63,314.61 467.83,314.28 466.04,313.97 464.24,313.67 462.45,313.38 460.65,313.12 458.86,312.87 457.06,312.65 455.27,312.46 453.47,312.3 451.68,312.18 449.88,312.11 448.09,312.09 446.29,312.13 444.5,312.24 442.7,312.41 440.91,312.66 439.11,313.03 437.32,313.54 435.52,314.16 433.73,314.89 431.93,315.7 430.13,316.58 428.34,317.51 426.54,318.49 424.75,319.51 422.95,320.55 421.16,321.62 419.36,322.7 417.57,323.81 415.77,324.92 413.98,326.05 412.18,327.19 410.39,328.33 408.59,329.48 406.8,330.64 405,331.8" class="bd"/><line x1="405" y1="311.3" x2="476.81" y2="301" stroke="#F8766D" stroke-width="1.85"/><polygon points="427.31,315.7 428.96,315.1 430.61,314.49 432.26,313.88 433.91,313.26 435.56,312.62 437.21,311.98 438.86,311.32 440.51,310.64 442.16,309.94 443.81,309.22 445.46,308.46 447.11,307.68 448.76,306.85 450.41,305.97 452.06,305.04 453.71,304.04 455.36,302.97 457.01,301.82 458.66,300.59 460.31,299.28 461.96,297.89 463.61,296.44 465.26,294.93 466.91,293.37 468.56,291.75 470.21,290.1 471.86,288.41 473.51,286.69 475.16,284.95 476.81,283.19 478.46,281.41 480.11,279.61 481.76,277.8 483.41,275.98 485.06,274.15 486.71,272.31 488.36,270.47 490.01,268.62 491.66,266.76 493.31,264.9 493.31,296.1 491.66,296.72 490.01,297.35 488.36,297.99 486.71,298.63 485.06,299.27 483.41,299.93 481.76,300.59 480.11,301.27 478.46,301.96 476.81,302.66 475.16,303.39 473.51,304.13 471.86,304.9 470.21,305.69 468.56,306.52 466.91,307.39 465.26,308.31 463.61,309.29 461.96,310.32 460.31,311.42 458.66,312.6 457.01,313.85 455.36,315.18 453.71,316.6 452.06,318.08 450.41,319.64 448.76,321.24 447.11,322.9 445.46,324.6 443.81,326.33 442.16,328.1 440.51,329.88 438.86,331.69 437.21,333.51 435.56,335.35 433.91,337.2 432.26,339.07 430.61,340.94 428.96,342.81 427.31,344.7" class="bd"/><line x1="427.31" y1="330.2" x2="493.31" y2="280.5" stroke="#00BFC4" stroke-width="1.85"/></g><line x1="405.2" y1="362.6" x2="405.2" y2="364.6" class="tk"/><text transform="translate(405.2,373.4) scale(1,1.1)" text-anchor="middle" class="tl">20</text><line x1="438.2" y1="362.6" x2="438.2" y2="364.6" class="tk"/><text transform="translate(438.2,373.4) scale(1,1.1)" text-anchor="middle" class="tl">30</text><line x1="471.2" y1="362.6" x2="471.2" y2="364.6" class="tk"/><text transform="translate(471.2,373.4) scale(1,1.1)" text-anchor="middle" class="tl">40</text><line x1="397.9" y1="355.38" x2="399.9" y2="355.38" class="tk"/><text transform="translate(395.5,358.98) scale(1,1.1)" text-anchor="end" class="tl">2</text><line x1="397.9" y1="317.87" x2="399.9" y2="317.87" class="tk"/><text transform="translate(395.5,321.47) scale(1,1.1)" text-anchor="end" class="tl">3</text><line x1="397.9" y1="280.36" x2="399.9" y2="280.36" class="tk"/><text transform="translate(395.5,283.96) scale(1,1.1)" text-anchor="end" class="tl">4</text><line x1="397.9" y1="242.85" x2="399.9" y2="242.85" class="tk"/><text transform="translate(395.5,246.45) scale(1,1.1)" text-anchor="end" class="tl">5</text><line x1="397.9" y1="205.34" x2="399.9" y2="205.34" class="tk"/><text transform="translate(395.5,208.94) scale(1,1.1)" text-anchor="end" class="tl">6</text><text transform="translate(452.85,385.3) scale(1,1.07)" text-anchor="middle" class="tt">Live weight (kg)</text><text transform="translate(387.4,269.3) rotate(-90) scale(1,1.07)" text-anchor="middle" class="tt">Backfat thickness (mm)</text>
<text x="633.1" y="181.5" class="lt">Gender</text>
<rect x="633.1" y="187" width="12.8" height="26" fill="#CDCDCD"/>
<line x1="633.9" y1="193.3" x2="644.9" y2="193.3" stroke="#F8766D" stroke-width="1.5"/>
<line x1="633.9" y1="206.3" x2="644.9" y2="206.3" stroke="#00BFC4" stroke-width="1.5"/>
<text x="650.9" y="196.1" class="lx">Ewes</text>
<text x="650.9" y="209.2" class="lx">Rams</text>
</svg></body></html>
